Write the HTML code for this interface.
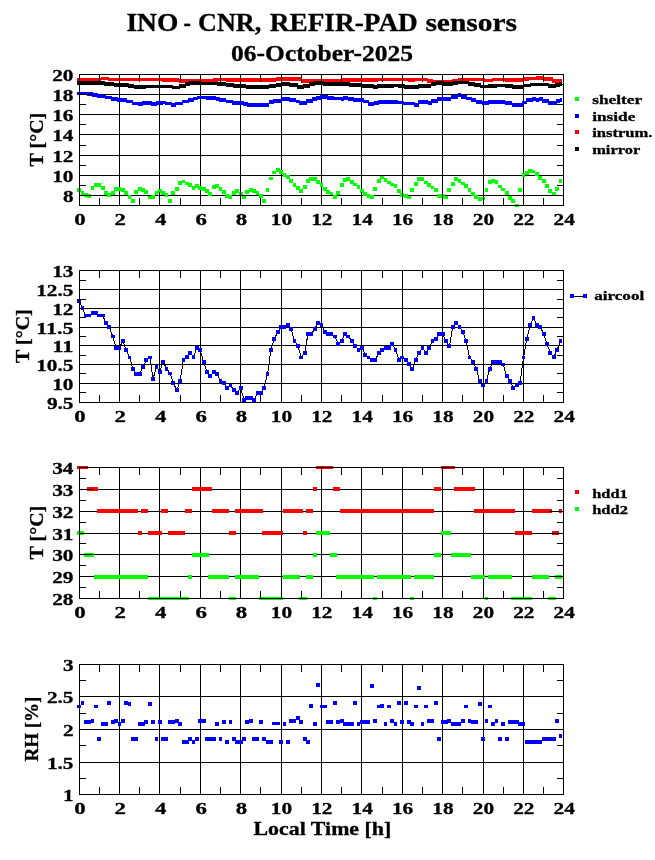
<!DOCTYPE html>
<html><head><meta charset="utf-8"><title>INO - CNR, REFIR-PAD sensors</title>
<style>html,body{margin:0;padding:0;background:#fff;}body{width:655px;height:860px;overflow:hidden;}svg{display:block;font-family:"Liberation Serif",serif;font-weight:bold;fill:#000;}text{stroke:#000;stroke-width:0.3px;stroke-linejoin:round;}.g line,.ax line,.ax rect{stroke:#000;stroke-width:1;fill:none;}.ce{shape-rendering:crispEdges;}svg{will-change:transform;}</style></head><body>
<svg width="655" height="860" viewBox="0 0 655 860">
<rect x="0" y="0" width="655" height="860" fill="#fff"/>
<text x="126.4" y="30.7" font-size="25.5" text-anchor="start" textLength="52" lengthAdjust="spacingAndGlyphs">INO</text>
<text x="183.6" y="30.7" font-size="25.5" text-anchor="start" textLength="7.4" lengthAdjust="spacingAndGlyphs">-</text>
<text x="198.0" y="30.7" font-size="25.5" text-anchor="start" textLength="63.2" lengthAdjust="spacingAndGlyphs">CNR,</text>
<text x="269.8" y="30.7" font-size="25.5" text-anchor="start" textLength="148" lengthAdjust="spacingAndGlyphs">REFIR-PAD</text>
<text x="425.4" y="30.7" font-size="25.5" text-anchor="start" textLength="91.6" lengthAdjust="spacingAndGlyphs">sensors</text>
<text x="322" y="61.1" font-size="23.5" text-anchor="middle" textLength="182" lengthAdjust="spacingAndGlyphs">06-October-2025</text>
<g class="g ce">
<line x1="79.5" y1="195.50" x2="563.5" y2="195.50"/>
<line x1="79.5" y1="175.50" x2="563.5" y2="175.50"/>
<line x1="79.5" y1="155.50" x2="563.5" y2="155.50"/>
<line x1="79.5" y1="134.50" x2="563.5" y2="134.50"/>
<line x1="79.5" y1="114.50" x2="563.5" y2="114.50"/>
<line x1="79.5" y1="94.50" x2="563.5" y2="94.50"/>
<line x1="119.50" y1="74.5" x2="119.50" y2="205.5"/>
<line x1="159.50" y1="74.5" x2="159.50" y2="205.5"/>
<line x1="200.50" y1="74.5" x2="200.50" y2="205.5"/>
<line x1="240.50" y1="74.5" x2="240.50" y2="205.5"/>
<line x1="281.50" y1="74.5" x2="281.50" y2="205.5"/>
<line x1="321.50" y1="74.5" x2="321.50" y2="205.5"/>
<line x1="361.50" y1="74.5" x2="361.50" y2="205.5"/>
<line x1="402.50" y1="74.5" x2="402.50" y2="205.5"/>
<line x1="442.50" y1="74.5" x2="442.50" y2="205.5"/>
<line x1="483.50" y1="74.5" x2="483.50" y2="205.5"/>
<line x1="523.50" y1="74.5" x2="523.50" y2="205.5"/>
</g>
<g class="ce">
<rect x="77.15" y="188.10" width="3.8" height="3.8" fill="#00ff00"/>
<rect x="80.52" y="190.85" width="3.8" height="3.8" fill="#00ff00"/>
<rect x="83.88" y="192.85" width="3.8" height="3.8" fill="#00ff00"/>
<rect x="87.25" y="194.10" width="3.8" height="3.8" fill="#00ff00"/>
<rect x="90.62" y="185.85" width="3.8" height="3.8" fill="#00ff00"/>
<rect x="93.98" y="182.70" width="3.8" height="3.8" fill="#00ff00"/>
<rect x="97.35" y="182.70" width="3.8" height="3.8" fill="#00ff00"/>
<rect x="100.72" y="185.85" width="3.8" height="3.8" fill="#00ff00"/>
<rect x="104.08" y="190.85" width="3.8" height="3.8" fill="#00ff00"/>
<rect x="107.45" y="193.10" width="3.8" height="3.8" fill="#00ff00"/>
<rect x="110.82" y="190.85" width="3.8" height="3.8" fill="#00ff00"/>
<rect x="114.18" y="187.10" width="3.8" height="3.8" fill="#00ff00"/>
<rect x="117.55" y="187.10" width="3.8" height="3.8" fill="#00ff00"/>
<rect x="120.92" y="187.85" width="3.8" height="3.8" fill="#00ff00"/>
<rect x="124.28" y="190.85" width="3.8" height="3.8" fill="#00ff00"/>
<rect x="127.65" y="195.00" width="3.8" height="3.8" fill="#00ff00"/>
<rect x="131.02" y="198.70" width="3.8" height="3.8" fill="#00ff00"/>
<rect x="134.38" y="190.35" width="3.8" height="3.8" fill="#00ff00"/>
<rect x="137.75" y="186.85" width="3.8" height="3.8" fill="#00ff00"/>
<rect x="141.12" y="187.85" width="3.8" height="3.8" fill="#00ff00"/>
<rect x="144.48" y="190.00" width="3.8" height="3.8" fill="#00ff00"/>
<rect x="147.85" y="195.60" width="3.8" height="3.8" fill="#00ff00"/>
<rect x="151.22" y="195.00" width="3.8" height="3.8" fill="#00ff00"/>
<rect x="154.58" y="190.85" width="3.8" height="3.8" fill="#00ff00"/>
<rect x="157.95" y="189.35" width="3.8" height="3.8" fill="#00ff00"/>
<rect x="161.32" y="190.85" width="3.8" height="3.8" fill="#00ff00"/>
<rect x="164.68" y="193.35" width="3.8" height="3.8" fill="#00ff00"/>
<rect x="168.05" y="198.70" width="3.8" height="3.8" fill="#00ff00"/>
<rect x="171.42" y="190.85" width="3.8" height="3.8" fill="#00ff00"/>
<rect x="174.78" y="186.85" width="3.8" height="3.8" fill="#00ff00"/>
<rect x="178.15" y="181.00" width="3.8" height="3.8" fill="#00ff00"/>
<rect x="181.52" y="179.60" width="3.8" height="3.8" fill="#00ff00"/>
<rect x="184.88" y="181.50" width="3.8" height="3.8" fill="#00ff00"/>
<rect x="188.25" y="182.70" width="3.8" height="3.8" fill="#00ff00"/>
<rect x="191.62" y="186.20" width="3.8" height="3.8" fill="#00ff00"/>
<rect x="194.98" y="184.35" width="3.8" height="3.8" fill="#00ff00"/>
<rect x="198.35" y="185.85" width="3.8" height="3.8" fill="#00ff00"/>
<rect x="201.72" y="187.10" width="3.8" height="3.8" fill="#00ff00"/>
<rect x="205.08" y="189.35" width="3.8" height="3.8" fill="#00ff00"/>
<rect x="208.45" y="191.85" width="3.8" height="3.8" fill="#00ff00"/>
<rect x="211.82" y="185.00" width="3.8" height="3.8" fill="#00ff00"/>
<rect x="215.18" y="183.70" width="3.8" height="3.8" fill="#00ff00"/>
<rect x="218.55" y="187.10" width="3.8" height="3.8" fill="#00ff00"/>
<rect x="221.92" y="190.00" width="3.8" height="3.8" fill="#00ff00"/>
<rect x="225.28" y="193.70" width="3.8" height="3.8" fill="#00ff00"/>
<rect x="228.65" y="195.00" width="3.8" height="3.8" fill="#00ff00"/>
<rect x="232.02" y="191.20" width="3.8" height="3.8" fill="#00ff00"/>
<rect x="235.38" y="189.35" width="3.8" height="3.8" fill="#00ff00"/>
<rect x="238.75" y="191.60" width="3.8" height="3.8" fill="#00ff00"/>
<rect x="242.12" y="195.60" width="3.8" height="3.8" fill="#00ff00"/>
<rect x="245.48" y="190.00" width="3.8" height="3.8" fill="#00ff00"/>
<rect x="248.85" y="187.85" width="3.8" height="3.8" fill="#00ff00"/>
<rect x="252.22" y="188.70" width="3.8" height="3.8" fill="#00ff00"/>
<rect x="255.58" y="190.85" width="3.8" height="3.8" fill="#00ff00"/>
<rect x="258.95" y="194.10" width="3.8" height="3.8" fill="#00ff00"/>
<rect x="262.32" y="198.70" width="3.8" height="3.8" fill="#00ff00"/>
<rect x="265.68" y="187.85" width="3.8" height="3.8" fill="#00ff00"/>
<rect x="269.05" y="176.60" width="3.8" height="3.8" fill="#00ff00"/>
<rect x="272.42" y="170.60" width="3.8" height="3.8" fill="#00ff00"/>
<rect x="275.78" y="167.85" width="3.8" height="3.8" fill="#00ff00"/>
<rect x="279.15" y="170.00" width="3.8" height="3.8" fill="#00ff00"/>
<rect x="282.52" y="172.85" width="3.8" height="3.8" fill="#00ff00"/>
<rect x="285.88" y="175.35" width="3.8" height="3.8" fill="#00ff00"/>
<rect x="289.25" y="178.70" width="3.8" height="3.8" fill="#00ff00"/>
<rect x="292.62" y="183.10" width="3.8" height="3.8" fill="#00ff00"/>
<rect x="295.98" y="185.85" width="3.8" height="3.8" fill="#00ff00"/>
<rect x="299.35" y="188.70" width="3.8" height="3.8" fill="#00ff00"/>
<rect x="302.72" y="185.35" width="3.8" height="3.8" fill="#00ff00"/>
<rect x="306.08" y="178.70" width="3.8" height="3.8" fill="#00ff00"/>
<rect x="309.45" y="177.10" width="3.8" height="3.8" fill="#00ff00"/>
<rect x="312.82" y="177.10" width="3.8" height="3.8" fill="#00ff00"/>
<rect x="316.18" y="180.00" width="3.8" height="3.8" fill="#00ff00"/>
<rect x="319.55" y="182.85" width="3.8" height="3.8" fill="#00ff00"/>
<rect x="322.92" y="187.10" width="3.8" height="3.8" fill="#00ff00"/>
<rect x="326.28" y="190.00" width="3.8" height="3.8" fill="#00ff00"/>
<rect x="329.65" y="191.60" width="3.8" height="3.8" fill="#00ff00"/>
<rect x="333.02" y="195.00" width="3.8" height="3.8" fill="#00ff00"/>
<rect x="336.38" y="190.85" width="3.8" height="3.8" fill="#00ff00"/>
<rect x="339.75" y="182.85" width="3.8" height="3.8" fill="#00ff00"/>
<rect x="343.12" y="177.85" width="3.8" height="3.8" fill="#00ff00"/>
<rect x="346.48" y="176.85" width="3.8" height="3.8" fill="#00ff00"/>
<rect x="349.85" y="180.35" width="3.8" height="3.8" fill="#00ff00"/>
<rect x="353.22" y="182.50" width="3.8" height="3.8" fill="#00ff00"/>
<rect x="356.58" y="185.35" width="3.8" height="3.8" fill="#00ff00"/>
<rect x="359.95" y="189.35" width="3.8" height="3.8" fill="#00ff00"/>
<rect x="363.32" y="191.85" width="3.8" height="3.8" fill="#00ff00"/>
<rect x="366.68" y="194.00" width="3.8" height="3.8" fill="#00ff00"/>
<rect x="370.05" y="195.00" width="3.8" height="3.8" fill="#00ff00"/>
<rect x="373.42" y="187.10" width="3.8" height="3.8" fill="#00ff00"/>
<rect x="376.78" y="178.70" width="3.8" height="3.8" fill="#00ff00"/>
<rect x="380.15" y="175.60" width="3.8" height="3.8" fill="#00ff00"/>
<rect x="383.52" y="177.85" width="3.8" height="3.8" fill="#00ff00"/>
<rect x="386.88" y="180.60" width="3.8" height="3.8" fill="#00ff00"/>
<rect x="390.25" y="182.50" width="3.8" height="3.8" fill="#00ff00"/>
<rect x="393.62" y="184.35" width="3.8" height="3.8" fill="#00ff00"/>
<rect x="396.98" y="189.35" width="3.8" height="3.8" fill="#00ff00"/>
<rect x="400.35" y="192.85" width="3.8" height="3.8" fill="#00ff00"/>
<rect x="403.72" y="194.00" width="3.8" height="3.8" fill="#00ff00"/>
<rect x="407.08" y="195.60" width="3.8" height="3.8" fill="#00ff00"/>
<rect x="410.45" y="187.85" width="3.8" height="3.8" fill="#00ff00"/>
<rect x="413.82" y="181.85" width="3.8" height="3.8" fill="#00ff00"/>
<rect x="417.18" y="177.10" width="3.8" height="3.8" fill="#00ff00"/>
<rect x="420.55" y="177.10" width="3.8" height="3.8" fill="#00ff00"/>
<rect x="423.92" y="180.60" width="3.8" height="3.8" fill="#00ff00"/>
<rect x="427.28" y="182.70" width="3.8" height="3.8" fill="#00ff00"/>
<rect x="430.65" y="185.60" width="3.8" height="3.8" fill="#00ff00"/>
<rect x="434.02" y="188.10" width="3.8" height="3.8" fill="#00ff00"/>
<rect x="437.38" y="194.00" width="3.8" height="3.8" fill="#00ff00"/>
<rect x="440.75" y="194.00" width="3.8" height="3.8" fill="#00ff00"/>
<rect x="444.12" y="195.60" width="3.8" height="3.8" fill="#00ff00"/>
<rect x="447.48" y="187.85" width="3.8" height="3.8" fill="#00ff00"/>
<rect x="450.85" y="181.85" width="3.8" height="3.8" fill="#00ff00"/>
<rect x="454.22" y="176.85" width="3.8" height="3.8" fill="#00ff00"/>
<rect x="457.58" y="178.70" width="3.8" height="3.8" fill="#00ff00"/>
<rect x="460.95" y="181.60" width="3.8" height="3.8" fill="#00ff00"/>
<rect x="464.32" y="184.00" width="3.8" height="3.8" fill="#00ff00"/>
<rect x="467.68" y="187.85" width="3.8" height="3.8" fill="#00ff00"/>
<rect x="471.05" y="191.85" width="3.8" height="3.8" fill="#00ff00"/>
<rect x="474.42" y="195.00" width="3.8" height="3.8" fill="#00ff00"/>
<rect x="477.78" y="196.85" width="3.8" height="3.8" fill="#00ff00"/>
<rect x="481.15" y="196.60" width="3.8" height="3.8" fill="#00ff00"/>
<rect x="484.52" y="187.95" width="3.8" height="3.8" fill="#00ff00"/>
<rect x="487.88" y="180.35" width="3.8" height="3.8" fill="#00ff00"/>
<rect x="491.25" y="178.90" width="3.8" height="3.8" fill="#00ff00"/>
<rect x="494.62" y="179.90" width="3.8" height="3.8" fill="#00ff00"/>
<rect x="497.98" y="184.60" width="3.8" height="3.8" fill="#00ff00"/>
<rect x="501.35" y="187.50" width="3.8" height="3.8" fill="#00ff00"/>
<rect x="504.72" y="191.40" width="3.8" height="3.8" fill="#00ff00"/>
<rect x="508.08" y="196.10" width="3.8" height="3.8" fill="#00ff00"/>
<rect x="511.45" y="199.00" width="3.8" height="3.8" fill="#00ff00"/>
<rect x="514.82" y="204" width="3.8" height="3" fill="#00ff00"/>
<rect x="518.18" y="187.95" width="3.8" height="3.8" fill="#00ff00"/>
<rect x="521.55" y="172.90" width="3.8" height="3.8" fill="#00ff00"/>
<rect x="524.92" y="170.70" width="3.8" height="3.8" fill="#00ff00"/>
<rect x="528.28" y="168.85" width="3.8" height="3.8" fill="#00ff00"/>
<rect x="531.65" y="169.60" width="3.8" height="3.8" fill="#00ff00"/>
<rect x="535.02" y="172.45" width="3.8" height="3.8" fill="#00ff00"/>
<rect x="538.38" y="176.00" width="3.8" height="3.8" fill="#00ff00"/>
<rect x="541.75" y="178.90" width="3.8" height="3.8" fill="#00ff00"/>
<rect x="545.12" y="183.90" width="3.8" height="3.8" fill="#00ff00"/>
<rect x="548.48" y="188.95" width="3.8" height="3.8" fill="#00ff00"/>
<rect x="551.85" y="191.80" width="3.8" height="3.8" fill="#00ff00"/>
<rect x="555.22" y="187.20" width="3.8" height="3.8" fill="#00ff00"/>
<rect x="558.58" y="179.20" width="3.8" height="3.8" fill="#00ff00"/>
<rect x="77" y="91.65" width="10.6" height="3.7" fill="#0000ff"/>
<rect x="87" y="92.35" width="5.6" height="3.7" fill="#0000ff"/>
<rect x="92" y="93.05" width="5.6" height="3.7" fill="#0000ff"/>
<rect x="97" y="93.95" width="5.6" height="3.7" fill="#0000ff"/>
<rect x="102" y="94.75" width="3.6" height="3.7" fill="#0000ff"/>
<rect x="105" y="95.75" width="6.6" height="3.7" fill="#0000ff"/>
<rect x="111" y="97.35" width="6.6" height="3.7" fill="#0000ff"/>
<rect x="117" y="98.25" width="9.6" height="3.7" fill="#0000ff"/>
<rect x="126" y="99.55" width="6.6" height="3.7" fill="#0000ff"/>
<rect x="132" y="101.75" width="6.6" height="3.7" fill="#0000ff"/>
<rect x="138" y="101.90" width="4.6" height="3.7" fill="#0000ff"/>
<rect x="142" y="101.05" width="9.6" height="3.7" fill="#0000ff"/>
<rect x="151" y="102.05" width="5.6" height="3.7" fill="#0000ff"/>
<rect x="156" y="101.35" width="6.6" height="3.7" fill="#0000ff"/>
<rect x="162" y="100.65" width="3.6" height="3.7" fill="#0000ff"/>
<rect x="165" y="101.55" width="6.6" height="3.7" fill="#0000ff"/>
<rect x="171" y="103.05" width="4.6" height="3.7" fill="#0000ff"/>
<rect x="175" y="101.75" width="7.6" height="3.7" fill="#0000ff"/>
<rect x="182" y="99.65" width="6.6" height="3.7" fill="#0000ff"/>
<rect x="188" y="98.05" width="5.6" height="3.7" fill="#0000ff"/>
<rect x="193" y="96.55" width="4.6" height="3.7" fill="#0000ff"/>
<rect x="197" y="95.65" width="9.1" height="3.7" fill="#0000ff"/>
<rect x="205.5" y="96.15" width="10.6" height="3.7" fill="#0000ff"/>
<rect x="215.5" y="96.90" width="4.1" height="3.7" fill="#0000ff"/>
<rect x="219" y="98.05" width="7.1" height="3.7" fill="#0000ff"/>
<rect x="225.5" y="99.65" width="7.1" height="3.7" fill="#0000ff"/>
<rect x="232" y="101.05" width="11.6" height="3.7" fill="#0000ff"/>
<rect x="243" y="102.05" width="4.6" height="3.7" fill="#0000ff"/>
<rect x="247" y="103.25" width="22.1" height="3.7" fill="#0000ff"/>
<rect x="268.5" y="100.15" width="5.1" height="3.7" fill="#0000ff"/>
<rect x="273" y="98.90" width="8.1" height="3.7" fill="#0000ff"/>
<rect x="280.5" y="97.05" width="9.1" height="3.7" fill="#0000ff"/>
<rect x="289" y="98.05" width="7.1" height="3.7" fill="#0000ff"/>
<rect x="295.5" y="99.65" width="4.1" height="3.7" fill="#0000ff"/>
<rect x="299" y="101.40" width="7.6" height="3.7" fill="#0000ff"/>
<rect x="306" y="98.90" width="6.6" height="3.7" fill="#0000ff"/>
<rect x="312" y="97.40" width="4.6" height="3.7" fill="#0000ff"/>
<rect x="316" y="96.05" width="4.6" height="3.7" fill="#0000ff"/>
<rect x="320" y="95.15" width="7.6" height="3.7" fill="#0000ff"/>
<rect x="327" y="96.05" width="6.6" height="3.7" fill="#0000ff"/>
<rect x="333" y="96.65" width="8.1" height="3.7" fill="#0000ff"/>
<rect x="340.5" y="97.40" width="3.1" height="3.7" fill="#0000ff"/>
<rect x="343" y="96.05" width="5.1" height="3.7" fill="#0000ff"/>
<rect x="347.5" y="96.90" width="6.1" height="3.7" fill="#0000ff"/>
<rect x="353" y="98.05" width="10.6" height="3.7" fill="#0000ff"/>
<rect x="363" y="99.65" width="5.6" height="3.7" fill="#0000ff"/>
<rect x="368" y="102.05" width="6.1" height="3.7" fill="#0000ff"/>
<rect x="373.5" y="101.05" width="5.1" height="3.7" fill="#0000ff"/>
<rect x="378" y="99.90" width="19.6" height="3.7" fill="#0000ff"/>
<rect x="397" y="100.55" width="6.6" height="3.7" fill="#0000ff"/>
<rect x="403" y="101.75" width="11.6" height="3.7" fill="#0000ff"/>
<rect x="414" y="103.25" width="4.6" height="3.7" fill="#0000ff"/>
<rect x="418" y="100.15" width="10.1" height="3.7" fill="#0000ff"/>
<rect x="427.5" y="101.15" width="4.1" height="3.7" fill="#0000ff"/>
<rect x="431" y="98.90" width="6.6" height="3.7" fill="#0000ff"/>
<rect x="437" y="97.15" width="14.1" height="3.7" fill="#0000ff"/>
<rect x="450.5" y="95.15" width="7.6" height="3.7" fill="#0000ff"/>
<rect x="457.5" y="93.25" width="3.6" height="3.7" fill="#0000ff"/>
<rect x="460.5" y="95.15" width="6.1" height="3.7" fill="#0000ff"/>
<rect x="466" y="96.75" width="5.6" height="3.7" fill="#0000ff"/>
<rect x="471" y="98.25" width="5.1" height="3.7" fill="#0000ff"/>
<rect x="475.5" y="100.15" width="6.6" height="3.7" fill="#0000ff"/>
<rect x="481.5" y="101.35" width="7.1" height="3.7" fill="#0000ff"/>
<rect x="488" y="99.95" width="17.1" height="3.7" fill="#0000ff"/>
<rect x="504.5" y="101.35" width="7.6" height="3.7" fill="#0000ff"/>
<rect x="511.5" y="102.85" width="11.1" height="3.7" fill="#0000ff"/>
<rect x="522" y="100.75" width="4.6" height="3.7" fill="#0000ff"/>
<rect x="526" y="97.95" width="6.6" height="3.7" fill="#0000ff"/>
<rect x="532" y="97.15" width="4.1" height="3.7" fill="#0000ff"/>
<rect x="535.5" y="97.95" width="3.6" height="3.7" fill="#0000ff"/>
<rect x="538.5" y="97.15" width="4.1" height="3.7" fill="#0000ff"/>
<rect x="542" y="98.80" width="6.6" height="3.7" fill="#0000ff"/>
<rect x="548" y="101.05" width="8.6" height="3.7" fill="#0000ff"/>
<rect x="556" y="99.35" width="4.1" height="3.7" fill="#0000ff"/>
<rect x="559.5" y="97.95" width="2.7" height="3.7" fill="#0000ff"/>
<rect x="77" y="77.75" width="24.1" height="3.7" fill="#ff0000"/>
<rect x="100.5" y="76.75" width="8.1" height="3.7" fill="#ff0000"/>
<rect x="108" y="77.75" width="54.6" height="3.7" fill="#ff0000"/>
<rect x="162" y="78.15" width="17.1" height="3.7" fill="#ff0000"/>
<rect x="178.5" y="79.15" width="35.1" height="3.7" fill="#ff0000"/>
<rect x="213" y="78.25" width="4.6" height="3.7" fill="#ff0000"/>
<rect x="217" y="77.75" width="9.1" height="3.7" fill="#ff0000"/>
<rect x="225.5" y="78.40" width="5.6" height="3.7" fill="#ff0000"/>
<rect x="230.5" y="77.90" width="45.6" height="3.7" fill="#ff0000"/>
<rect x="275.5" y="77.15" width="25.6" height="3.7" fill="#ff0000"/>
<rect x="300.5" y="78.90" width="7.1" height="3.7" fill="#ff0000"/>
<rect x="307" y="79.45" width="15.6" height="3.7" fill="#ff0000"/>
<rect x="322" y="78.90" width="20.6" height="3.7" fill="#ff0000"/>
<rect x="342" y="78.05" width="20.6" height="3.7" fill="#ff0000"/>
<rect x="362" y="78.25" width="15.6" height="3.7" fill="#ff0000"/>
<rect x="377" y="77.75" width="31.6" height="3.7" fill="#ff0000"/>
<rect x="408" y="78.15" width="6.6" height="3.7" fill="#ff0000"/>
<rect x="414" y="77.65" width="13.6" height="3.7" fill="#ff0000"/>
<rect x="427" y="78.90" width="5.6" height="3.7" fill="#ff0000"/>
<rect x="432" y="79.55" width="20.6" height="3.7" fill="#ff0000"/>
<rect x="452" y="78.65" width="6.6" height="3.7" fill="#ff0000"/>
<rect x="458" y="77.75" width="26.6" height="3.7" fill="#ff0000"/>
<rect x="484" y="78.55" width="8.6" height="3.7" fill="#ff0000"/>
<rect x="492" y="77.75" width="13.6" height="3.7" fill="#ff0000"/>
<rect x="505" y="78.15" width="18.6" height="3.7" fill="#ff0000"/>
<rect x="523" y="77.45" width="6.1" height="3.7" fill="#ff0000"/>
<rect x="528.5" y="76.75" width="7.6" height="3.7" fill="#ff0000"/>
<rect x="535.5" y="76.15" width="7.6" height="3.7" fill="#ff0000"/>
<rect x="542.5" y="77.15" width="10.1" height="3.7" fill="#ff0000"/>
<rect x="552" y="79.15" width="10.2" height="3.7" fill="#ff0000"/>
<rect x="77" y="81.15" width="27.6" height="3.7" fill="#000000"/>
<rect x="104" y="82.15" width="10.1" height="3.7" fill="#000000"/>
<rect x="113.5" y="83.15" width="15.1" height="3.7" fill="#000000"/>
<rect x="128" y="84.15" width="6.1" height="3.7" fill="#000000"/>
<rect x="133.5" y="85.15" width="12.1" height="3.7" fill="#000000"/>
<rect x="145" y="84.55" width="27.6" height="3.7" fill="#000000"/>
<rect x="172" y="85.65" width="7.6" height="3.7" fill="#000000"/>
<rect x="179" y="84.05" width="6.6" height="3.7" fill="#000000"/>
<rect x="185" y="81.90" width="4.6" height="3.7" fill="#000000"/>
<rect x="189" y="80.90" width="12.1" height="3.7" fill="#000000"/>
<rect x="200.5" y="81.75" width="17.1" height="3.7" fill="#000000"/>
<rect x="217" y="82.25" width="9.1" height="3.7" fill="#000000"/>
<rect x="225.5" y="83.15" width="8.1" height="3.7" fill="#000000"/>
<rect x="233" y="83.90" width="13.1" height="3.7" fill="#000000"/>
<rect x="245.5" y="85.15" width="23.6" height="3.7" fill="#000000"/>
<rect x="268.5" y="83.90" width="7.6" height="3.7" fill="#000000"/>
<rect x="275.5" y="83.05" width="6.1" height="3.7" fill="#000000"/>
<rect x="281" y="82.40" width="8.6" height="3.7" fill="#000000"/>
<rect x="289" y="83.15" width="8.6" height="3.7" fill="#000000"/>
<rect x="297" y="85.15" width="6.6" height="3.7" fill="#000000"/>
<rect x="303" y="83.90" width="6.6" height="3.7" fill="#000000"/>
<rect x="309" y="82.15" width="5.6" height="3.7" fill="#000000"/>
<rect x="314" y="81.05" width="9.6" height="3.7" fill="#000000"/>
<rect x="323" y="81.90" width="4.6" height="3.7" fill="#000000"/>
<rect x="327" y="82.40" width="14.1" height="3.7" fill="#000000"/>
<rect x="340.5" y="82.15" width="9.1" height="3.7" fill="#000000"/>
<rect x="349" y="83.40" width="12.1" height="3.7" fill="#000000"/>
<rect x="360.5" y="84.15" width="13.1" height="3.7" fill="#000000"/>
<rect x="373" y="84.90" width="4.6" height="3.7" fill="#000000"/>
<rect x="377" y="84.15" width="16.6" height="3.7" fill="#000000"/>
<rect x="393" y="83.55" width="5.1" height="3.7" fill="#000000"/>
<rect x="397.5" y="84.15" width="7.1" height="3.7" fill="#000000"/>
<rect x="404" y="85.15" width="14.6" height="3.7" fill="#000000"/>
<rect x="418" y="84.25" width="13.1" height="3.7" fill="#000000"/>
<rect x="430.5" y="82.40" width="5.6" height="3.7" fill="#000000"/>
<rect x="435.5" y="81.40" width="8.1" height="3.7" fill="#000000"/>
<rect x="443" y="82.15" width="9.6" height="3.7" fill="#000000"/>
<rect x="452" y="81.40" width="5.6" height="3.7" fill="#000000"/>
<rect x="457" y="80.75" width="11.6" height="3.7" fill="#000000"/>
<rect x="468" y="81.90" width="6.6" height="3.7" fill="#000000"/>
<rect x="474" y="83.15" width="6.6" height="3.7" fill="#000000"/>
<rect x="480" y="84.75" width="8.6" height="3.7" fill="#000000"/>
<rect x="488" y="84.15" width="8.6" height="3.7" fill="#000000"/>
<rect x="496" y="83.65" width="9.6" height="3.7" fill="#000000"/>
<rect x="505" y="84.15" width="7.6" height="3.7" fill="#000000"/>
<rect x="512" y="85.05" width="11.6" height="3.7" fill="#000000"/>
<rect x="523" y="83.75" width="7.6" height="3.7" fill="#000000"/>
<rect x="530" y="82.65" width="18.6" height="3.7" fill="#000000"/>
<rect x="548" y="84.05" width="7.6" height="3.7" fill="#000000"/>
<rect x="555" y="83.05" width="4.6" height="3.7" fill="#000000"/>
<rect x="559" y="81.95" width="3.2" height="3.7" fill="#000000"/>
</g>
<g class="ax ce">
<rect x="79.5" y="74.5" width="484.0" height="131.0"/>
<line x1="79.5" y1="195.50" x2="93.0" y2="195.50"/><line x1="550.0" y1="195.50" x2="563.5" y2="195.50"/>
<line x1="79.5" y1="175.50" x2="93.0" y2="175.50"/><line x1="550.0" y1="175.50" x2="563.5" y2="175.50"/>
<line x1="79.5" y1="155.50" x2="93.0" y2="155.50"/><line x1="550.0" y1="155.50" x2="563.5" y2="155.50"/>
<line x1="79.5" y1="134.50" x2="93.0" y2="134.50"/><line x1="550.0" y1="134.50" x2="563.5" y2="134.50"/>
<line x1="79.5" y1="114.50" x2="93.0" y2="114.50"/><line x1="550.0" y1="114.50" x2="563.5" y2="114.50"/>
<line x1="79.5" y1="94.50" x2="93.0" y2="94.50"/><line x1="550.0" y1="94.50" x2="563.5" y2="94.50"/>
<line x1="79.5" y1="185.50" x2="86.0" y2="185.50"/><line x1="557.0" y1="185.50" x2="563.5" y2="185.50"/>
<line x1="79.5" y1="165.50" x2="86.0" y2="165.50"/><line x1="557.0" y1="165.50" x2="563.5" y2="165.50"/>
<line x1="79.5" y1="145.50" x2="86.0" y2="145.50"/><line x1="557.0" y1="145.50" x2="563.5" y2="145.50"/>
<line x1="79.5" y1="124.50" x2="86.0" y2="124.50"/><line x1="557.0" y1="124.50" x2="563.5" y2="124.50"/>
<line x1="79.5" y1="104.50" x2="86.0" y2="104.50"/><line x1="557.0" y1="104.50" x2="563.5" y2="104.50"/>
<line x1="79.5" y1="84.50" x2="86.0" y2="84.50"/><line x1="557.0" y1="84.50" x2="563.5" y2="84.50"/>
<line x1="99.50" y1="74.5" x2="99.50" y2="82.0"/><line x1="99.50" y1="198.0" x2="99.50" y2="205.5"/>
<line x1="119.50" y1="74.5" x2="119.50" y2="88.0"/><line x1="119.50" y1="192.0" x2="119.50" y2="205.5"/>
<line x1="139.50" y1="74.5" x2="139.50" y2="82.0"/><line x1="139.50" y1="198.0" x2="139.50" y2="205.5"/>
<line x1="159.50" y1="74.5" x2="159.50" y2="88.0"/><line x1="159.50" y1="192.0" x2="159.50" y2="205.5"/>
<line x1="180.50" y1="74.5" x2="180.50" y2="82.0"/><line x1="180.50" y1="198.0" x2="180.50" y2="205.5"/>
<line x1="200.50" y1="74.5" x2="200.50" y2="88.0"/><line x1="200.50" y1="192.0" x2="200.50" y2="205.5"/>
<line x1="220.50" y1="74.5" x2="220.50" y2="82.0"/><line x1="220.50" y1="198.0" x2="220.50" y2="205.5"/>
<line x1="240.50" y1="74.5" x2="240.50" y2="88.0"/><line x1="240.50" y1="192.0" x2="240.50" y2="205.5"/>
<line x1="260.50" y1="74.5" x2="260.50" y2="82.0"/><line x1="260.50" y1="198.0" x2="260.50" y2="205.5"/>
<line x1="281.50" y1="74.5" x2="281.50" y2="88.0"/><line x1="281.50" y1="192.0" x2="281.50" y2="205.5"/>
<line x1="301.50" y1="74.5" x2="301.50" y2="82.0"/><line x1="301.50" y1="198.0" x2="301.50" y2="205.5"/>
<line x1="321.50" y1="74.5" x2="321.50" y2="88.0"/><line x1="321.50" y1="192.0" x2="321.50" y2="205.5"/>
<line x1="341.50" y1="74.5" x2="341.50" y2="82.0"/><line x1="341.50" y1="198.0" x2="341.50" y2="205.5"/>
<line x1="361.50" y1="74.5" x2="361.50" y2="88.0"/><line x1="361.50" y1="192.0" x2="361.50" y2="205.5"/>
<line x1="382.50" y1="74.5" x2="382.50" y2="82.0"/><line x1="382.50" y1="198.0" x2="382.50" y2="205.5"/>
<line x1="402.50" y1="74.5" x2="402.50" y2="88.0"/><line x1="402.50" y1="192.0" x2="402.50" y2="205.5"/>
<line x1="422.50" y1="74.5" x2="422.50" y2="82.0"/><line x1="422.50" y1="198.0" x2="422.50" y2="205.5"/>
<line x1="442.50" y1="74.5" x2="442.50" y2="88.0"/><line x1="442.50" y1="192.0" x2="442.50" y2="205.5"/>
<line x1="462.50" y1="74.5" x2="462.50" y2="82.0"/><line x1="462.50" y1="198.0" x2="462.50" y2="205.5"/>
<line x1="483.50" y1="74.5" x2="483.50" y2="88.0"/><line x1="483.50" y1="192.0" x2="483.50" y2="205.5"/>
<line x1="503.50" y1="74.5" x2="503.50" y2="82.0"/><line x1="503.50" y1="198.0" x2="503.50" y2="205.5"/>
<line x1="523.50" y1="74.5" x2="523.50" y2="88.0"/><line x1="523.50" y1="192.0" x2="523.50" y2="205.5"/>
<line x1="543.50" y1="74.5" x2="543.50" y2="82.0"/><line x1="543.50" y1="198.0" x2="543.50" y2="205.5"/>
</g>
<text x="73.5" y="201.5" font-size="17.6" text-anchor="end" textLength="10.6" lengthAdjust="spacingAndGlyphs">8</text>
<text x="73.5" y="181.5" font-size="17.6" text-anchor="end" textLength="21.3" lengthAdjust="spacingAndGlyphs">10</text>
<text x="73.5" y="161.5" font-size="17.6" text-anchor="end" textLength="21.3" lengthAdjust="spacingAndGlyphs">12</text>
<text x="73.5" y="140.5" font-size="17.6" text-anchor="end" textLength="21.3" lengthAdjust="spacingAndGlyphs">14</text>
<text x="73.5" y="120.5" font-size="17.6" text-anchor="end" textLength="21.3" lengthAdjust="spacingAndGlyphs">16</text>
<text x="73.5" y="100.5" font-size="17.6" text-anchor="end" textLength="21.3" lengthAdjust="spacingAndGlyphs">18</text>
<text x="73.5" y="80.5" font-size="17.6" text-anchor="end" textLength="21.3" lengthAdjust="spacingAndGlyphs">20</text>
<text x="80.0" y="225.2" font-size="17.6" text-anchor="middle" textLength="11.4" lengthAdjust="spacingAndGlyphs">0</text>
<text x="120.3" y="225.2" font-size="17.6" text-anchor="middle" textLength="11.4" lengthAdjust="spacingAndGlyphs">2</text>
<text x="160.8" y="225.2" font-size="17.6" text-anchor="middle" textLength="11.4" lengthAdjust="spacingAndGlyphs">4</text>
<text x="201.2" y="225.2" font-size="17.6" text-anchor="middle" textLength="11.4" lengthAdjust="spacingAndGlyphs">6</text>
<text x="241.5" y="225.2" font-size="17.6" text-anchor="middle" textLength="11.4" lengthAdjust="spacingAndGlyphs">8</text>
<text x="281.4" y="225.2" font-size="17.6" text-anchor="middle" textLength="21.3" lengthAdjust="spacingAndGlyphs">10</text>
<text x="321.8" y="225.2" font-size="17.6" text-anchor="middle" textLength="21.3" lengthAdjust="spacingAndGlyphs">12</text>
<text x="362.2" y="225.2" font-size="17.6" text-anchor="middle" textLength="21.3" lengthAdjust="spacingAndGlyphs">14</text>
<text x="402.6" y="225.2" font-size="17.6" text-anchor="middle" textLength="21.3" lengthAdjust="spacingAndGlyphs">16</text>
<text x="443.0" y="225.2" font-size="17.6" text-anchor="middle" textLength="21.3" lengthAdjust="spacingAndGlyphs">18</text>
<text x="483.4" y="225.2" font-size="17.6" text-anchor="middle" textLength="21.3" lengthAdjust="spacingAndGlyphs">20</text>
<text x="523.8" y="225.2" font-size="17.6" text-anchor="middle" textLength="21.3" lengthAdjust="spacingAndGlyphs">22</text>
<text x="564.2" y="225.2" font-size="17.6" text-anchor="middle" textLength="21.3" lengthAdjust="spacingAndGlyphs">24</text>
<text font-size="18" text-anchor="middle" textLength="53.6" lengthAdjust="spacingAndGlyphs" transform="translate(42.8,139.6) rotate(-90)">T [°C]</text>
<g class="ce">
<rect x="575" y="97" width="4" height="4" fill="#00ff00"/>
<rect x="575" y="114" width="4" height="4" fill="#0000ff"/>
<rect x="575" y="130" width="4" height="4" fill="#ff0000"/>
<rect x="575" y="147" width="4" height="4" fill="#000000"/>
</g>
<text x="592.2" y="104.2" font-size="13.2" stroke-width="0.2" textLength="50" lengthAdjust="spacingAndGlyphs">shelter</text>
<text x="592.2" y="120.8" font-size="13.2" stroke-width="0.2" textLength="43.2" lengthAdjust="spacingAndGlyphs">inside</text>
<text x="592.2" y="137.3" font-size="13.2" stroke-width="0.2" textLength="60.2" lengthAdjust="spacingAndGlyphs">instrum.</text>
<text x="592.2" y="153.6" font-size="13.2" stroke-width="0.2" textLength="48" lengthAdjust="spacingAndGlyphs">mirror</text>
<g class="g ce">
<line x1="79.5" y1="383.50" x2="563.5" y2="383.50"/>
<line x1="79.5" y1="364.50" x2="563.5" y2="364.50"/>
<line x1="79.5" y1="345.50" x2="563.5" y2="345.50"/>
<line x1="79.5" y1="327.50" x2="563.5" y2="327.50"/>
<line x1="79.5" y1="308.50" x2="563.5" y2="308.50"/>
<line x1="79.5" y1="289.50" x2="563.5" y2="289.50"/>
<line x1="119.50" y1="270.5" x2="119.50" y2="402.5"/>
<line x1="159.50" y1="270.5" x2="159.50" y2="402.5"/>
<line x1="200.50" y1="270.5" x2="200.50" y2="402.5"/>
<line x1="240.50" y1="270.5" x2="240.50" y2="402.5"/>
<line x1="281.50" y1="270.5" x2="281.50" y2="402.5"/>
<line x1="321.50" y1="270.5" x2="321.50" y2="402.5"/>
<line x1="361.50" y1="270.5" x2="361.50" y2="402.5"/>
<line x1="402.50" y1="270.5" x2="402.50" y2="402.5"/>
<line x1="442.50" y1="270.5" x2="442.50" y2="402.5"/>
<line x1="483.50" y1="270.5" x2="483.50" y2="402.5"/>
<line x1="523.50" y1="270.5" x2="523.50" y2="402.5"/>
</g>
<g class="ce">
<polyline points="79.0,301.1 82.4,308.3 85.8,315.5 89.1,315.5 92.5,312.9 95.9,312.9 99.2,315.5 102.6,315.5 106.0,322.9 109.3,326.9 112.7,336.5 116.1,347.6 119.4,347.6 122.8,340.9 126.2,350.0 129.6,357.5 132.9,368.6 136.3,373.9 139.6,373.9 143.0,366.7 146.4,359.9 149.8,357.5 153.1,378.7 156.5,367.0 159.8,371.8 163.2,361.9 166.6,368.6 169.9,373.4 173.3,382.6 176.7,390.3 180.1,381.1 183.4,359.9 186.8,357.2 190.2,352.9 193.5,357.2 196.9,347.6 200.2,350.0 203.6,361.9 207.0,371.8 210.3,375.8 213.7,371.8 217.1,373.9 220.4,381.1 223.8,382.6 227.2,387.7 230.6,385.5 233.9,390.3 237.3,393.0 240.6,387.7 244.0,399.8 247.4,397.8 250.8,397.8 254.1,399.8 257.5,393.0 260.8,393.0 264.2,387.7 267.6,373.9 270.9,350.0 274.3,338.9 277.7,332.0 281.1,327.2 284.4,326.9 287.8,324.8 291.1,328.8 294.5,340.9 297.9,346.0 301.2,357.5 304.6,352.9 308.0,334.1 311.3,334.1 314.7,328.8 318.1,322.9 321.4,324.8 324.8,332.0 328.2,333.6 331.6,333.6 334.9,336.5 338.3,344.1 341.6,340.9 345.0,333.6 348.4,336.5 351.8,340.9 355.1,346.0 358.5,350.0 361.9,347.6 365.2,354.8 368.6,357.5 371.9,359.9 375.3,359.9 378.7,353.2 382.1,350.0 385.4,347.6 388.8,347.6 392.1,343.6 395.5,350.0 398.9,359.9 402.2,357.5 405.6,359.9 409.0,364.3 412.4,368.6 415.7,359.9 419.1,352.9 422.5,347.6 425.8,352.9 429.2,347.6 432.6,340.9 435.9,338.9 439.3,333.8 442.6,333.8 446.0,340.9 449.4,346.0 452.8,326.9 456.1,322.9 459.5,326.9 462.8,332.0 466.2,340.9 469.6,357.5 473.0,361.9 476.3,368.6 479.7,381.1 483.1,385.4 486.4,381.1 489.8,368.7 493.1,362.3 496.5,362.3 499.9,362.3 503.2,364.4 506.6,376.3 510.0,381.1 513.3,387.8 516.7,385.4 520.1,382.7 523.5,357.5 526.8,338.9 530.2,324.9 533.5,318.2 536.9,324.9 540.3,326.9 543.6,333.8 547.0,344.0 550.4,352.9 553.8,357.2 557.1,350.0 560.5,341.0" fill="none" stroke="#000" stroke-width="1"/>
<rect x="77.15" y="299.20" width="3.8" height="3.8" fill="#0000ff"/>
<rect x="80.52" y="306.40" width="3.8" height="3.8" fill="#0000ff"/>
<rect x="83.88" y="313.60" width="3.8" height="3.8" fill="#0000ff"/>
<rect x="87.25" y="313.60" width="3.8" height="3.8" fill="#0000ff"/>
<rect x="90.62" y="311.00" width="3.8" height="3.8" fill="#0000ff"/>
<rect x="93.98" y="311.00" width="3.8" height="3.8" fill="#0000ff"/>
<rect x="97.35" y="313.60" width="3.8" height="3.8" fill="#0000ff"/>
<rect x="100.72" y="313.60" width="3.8" height="3.8" fill="#0000ff"/>
<rect x="104.08" y="321.00" width="3.8" height="3.8" fill="#0000ff"/>
<rect x="107.45" y="325.00" width="3.8" height="3.8" fill="#0000ff"/>
<rect x="110.82" y="334.60" width="3.8" height="3.8" fill="#0000ff"/>
<rect x="114.18" y="345.70" width="3.8" height="3.8" fill="#0000ff"/>
<rect x="117.55" y="345.70" width="3.8" height="3.8" fill="#0000ff"/>
<rect x="120.92" y="339.00" width="3.8" height="3.8" fill="#0000ff"/>
<rect x="124.28" y="348.10" width="3.8" height="3.8" fill="#0000ff"/>
<rect x="127.65" y="355.60" width="3.8" height="3.8" fill="#0000ff"/>
<rect x="131.02" y="366.70" width="3.8" height="3.8" fill="#0000ff"/>
<rect x="134.38" y="372.00" width="3.8" height="3.8" fill="#0000ff"/>
<rect x="137.75" y="372.00" width="3.8" height="3.8" fill="#0000ff"/>
<rect x="141.12" y="364.80" width="3.8" height="3.8" fill="#0000ff"/>
<rect x="144.48" y="358.00" width="3.8" height="3.8" fill="#0000ff"/>
<rect x="147.85" y="355.60" width="3.8" height="3.8" fill="#0000ff"/>
<rect x="151.22" y="376.80" width="3.8" height="3.8" fill="#0000ff"/>
<rect x="154.58" y="365.10" width="3.8" height="3.8" fill="#0000ff"/>
<rect x="157.95" y="369.90" width="3.8" height="3.8" fill="#0000ff"/>
<rect x="161.32" y="360.00" width="3.8" height="3.8" fill="#0000ff"/>
<rect x="164.68" y="366.70" width="3.8" height="3.8" fill="#0000ff"/>
<rect x="168.05" y="371.50" width="3.8" height="3.8" fill="#0000ff"/>
<rect x="171.42" y="380.70" width="3.8" height="3.8" fill="#0000ff"/>
<rect x="174.78" y="388.40" width="3.8" height="3.8" fill="#0000ff"/>
<rect x="178.15" y="379.20" width="3.8" height="3.8" fill="#0000ff"/>
<rect x="181.52" y="358.00" width="3.8" height="3.8" fill="#0000ff"/>
<rect x="184.88" y="355.30" width="3.8" height="3.8" fill="#0000ff"/>
<rect x="188.25" y="351.00" width="3.8" height="3.8" fill="#0000ff"/>
<rect x="191.62" y="355.30" width="3.8" height="3.8" fill="#0000ff"/>
<rect x="194.98" y="345.70" width="3.8" height="3.8" fill="#0000ff"/>
<rect x="198.35" y="348.10" width="3.8" height="3.8" fill="#0000ff"/>
<rect x="201.72" y="360.00" width="3.8" height="3.8" fill="#0000ff"/>
<rect x="205.08" y="369.90" width="3.8" height="3.8" fill="#0000ff"/>
<rect x="208.45" y="373.90" width="3.8" height="3.8" fill="#0000ff"/>
<rect x="211.82" y="369.90" width="3.8" height="3.8" fill="#0000ff"/>
<rect x="215.18" y="372.00" width="3.8" height="3.8" fill="#0000ff"/>
<rect x="218.55" y="379.20" width="3.8" height="3.8" fill="#0000ff"/>
<rect x="221.92" y="380.70" width="3.8" height="3.8" fill="#0000ff"/>
<rect x="225.28" y="385.80" width="3.8" height="3.8" fill="#0000ff"/>
<rect x="228.65" y="383.60" width="3.8" height="3.8" fill="#0000ff"/>
<rect x="232.02" y="388.40" width="3.8" height="3.8" fill="#0000ff"/>
<rect x="235.38" y="391.10" width="3.8" height="3.8" fill="#0000ff"/>
<rect x="238.75" y="385.80" width="3.8" height="3.8" fill="#0000ff"/>
<rect x="242.12" y="397.90" width="3.8" height="3.8" fill="#0000ff"/>
<rect x="245.48" y="395.90" width="3.8" height="3.8" fill="#0000ff"/>
<rect x="248.85" y="395.90" width="3.8" height="3.8" fill="#0000ff"/>
<rect x="252.22" y="397.90" width="3.8" height="3.8" fill="#0000ff"/>
<rect x="255.58" y="391.10" width="3.8" height="3.8" fill="#0000ff"/>
<rect x="258.95" y="391.10" width="3.8" height="3.8" fill="#0000ff"/>
<rect x="262.32" y="385.80" width="3.8" height="3.8" fill="#0000ff"/>
<rect x="265.68" y="372.00" width="3.8" height="3.8" fill="#0000ff"/>
<rect x="269.05" y="348.10" width="3.8" height="3.8" fill="#0000ff"/>
<rect x="272.42" y="337.00" width="3.8" height="3.8" fill="#0000ff"/>
<rect x="275.78" y="330.10" width="3.8" height="3.8" fill="#0000ff"/>
<rect x="279.15" y="325.30" width="3.8" height="3.8" fill="#0000ff"/>
<rect x="282.52" y="325.00" width="3.8" height="3.8" fill="#0000ff"/>
<rect x="285.88" y="322.90" width="3.8" height="3.8" fill="#0000ff"/>
<rect x="289.25" y="326.90" width="3.8" height="3.8" fill="#0000ff"/>
<rect x="292.62" y="339.00" width="3.8" height="3.8" fill="#0000ff"/>
<rect x="295.98" y="344.10" width="3.8" height="3.8" fill="#0000ff"/>
<rect x="299.35" y="355.60" width="3.8" height="3.8" fill="#0000ff"/>
<rect x="302.72" y="351.00" width="3.8" height="3.8" fill="#0000ff"/>
<rect x="306.08" y="332.20" width="3.8" height="3.8" fill="#0000ff"/>
<rect x="309.45" y="332.20" width="3.8" height="3.8" fill="#0000ff"/>
<rect x="312.82" y="326.90" width="3.8" height="3.8" fill="#0000ff"/>
<rect x="316.18" y="321.00" width="3.8" height="3.8" fill="#0000ff"/>
<rect x="319.55" y="322.90" width="3.8" height="3.8" fill="#0000ff"/>
<rect x="322.92" y="330.10" width="3.8" height="3.8" fill="#0000ff"/>
<rect x="326.28" y="331.70" width="3.8" height="3.8" fill="#0000ff"/>
<rect x="329.65" y="331.70" width="3.8" height="3.8" fill="#0000ff"/>
<rect x="333.02" y="334.60" width="3.8" height="3.8" fill="#0000ff"/>
<rect x="336.38" y="342.20" width="3.8" height="3.8" fill="#0000ff"/>
<rect x="339.75" y="339.00" width="3.8" height="3.8" fill="#0000ff"/>
<rect x="343.12" y="331.70" width="3.8" height="3.8" fill="#0000ff"/>
<rect x="346.48" y="334.60" width="3.8" height="3.8" fill="#0000ff"/>
<rect x="349.85" y="339.00" width="3.8" height="3.8" fill="#0000ff"/>
<rect x="353.22" y="344.10" width="3.8" height="3.8" fill="#0000ff"/>
<rect x="356.58" y="348.10" width="3.8" height="3.8" fill="#0000ff"/>
<rect x="359.95" y="345.70" width="3.8" height="3.8" fill="#0000ff"/>
<rect x="363.32" y="352.90" width="3.8" height="3.8" fill="#0000ff"/>
<rect x="366.68" y="355.60" width="3.8" height="3.8" fill="#0000ff"/>
<rect x="370.05" y="358.00" width="3.8" height="3.8" fill="#0000ff"/>
<rect x="373.42" y="358.00" width="3.8" height="3.8" fill="#0000ff"/>
<rect x="376.78" y="351.30" width="3.8" height="3.8" fill="#0000ff"/>
<rect x="380.15" y="348.10" width="3.8" height="3.8" fill="#0000ff"/>
<rect x="383.52" y="345.70" width="3.8" height="3.8" fill="#0000ff"/>
<rect x="386.88" y="345.70" width="3.8" height="3.8" fill="#0000ff"/>
<rect x="390.25" y="341.70" width="3.8" height="3.8" fill="#0000ff"/>
<rect x="393.62" y="348.10" width="3.8" height="3.8" fill="#0000ff"/>
<rect x="396.98" y="358.00" width="3.8" height="3.8" fill="#0000ff"/>
<rect x="400.35" y="355.60" width="3.8" height="3.8" fill="#0000ff"/>
<rect x="403.72" y="358.00" width="3.8" height="3.8" fill="#0000ff"/>
<rect x="407.08" y="362.40" width="3.8" height="3.8" fill="#0000ff"/>
<rect x="410.45" y="366.70" width="3.8" height="3.8" fill="#0000ff"/>
<rect x="413.82" y="358.00" width="3.8" height="3.8" fill="#0000ff"/>
<rect x="417.18" y="351.00" width="3.8" height="3.8" fill="#0000ff"/>
<rect x="420.55" y="345.70" width="3.8" height="3.8" fill="#0000ff"/>
<rect x="423.92" y="351.00" width="3.8" height="3.8" fill="#0000ff"/>
<rect x="427.28" y="345.70" width="3.8" height="3.8" fill="#0000ff"/>
<rect x="430.65" y="339.00" width="3.8" height="3.8" fill="#0000ff"/>
<rect x="434.02" y="337.00" width="3.8" height="3.8" fill="#0000ff"/>
<rect x="437.38" y="331.90" width="3.8" height="3.8" fill="#0000ff"/>
<rect x="440.75" y="331.90" width="3.8" height="3.8" fill="#0000ff"/>
<rect x="444.12" y="339.00" width="3.8" height="3.8" fill="#0000ff"/>
<rect x="447.48" y="344.10" width="3.8" height="3.8" fill="#0000ff"/>
<rect x="450.85" y="325.00" width="3.8" height="3.8" fill="#0000ff"/>
<rect x="454.22" y="321.00" width="3.8" height="3.8" fill="#0000ff"/>
<rect x="457.58" y="325.00" width="3.8" height="3.8" fill="#0000ff"/>
<rect x="460.95" y="330.10" width="3.8" height="3.8" fill="#0000ff"/>
<rect x="464.32" y="339.00" width="3.8" height="3.8" fill="#0000ff"/>
<rect x="467.68" y="355.60" width="3.8" height="3.8" fill="#0000ff"/>
<rect x="471.05" y="360.00" width="3.8" height="3.8" fill="#0000ff"/>
<rect x="474.42" y="366.70" width="3.8" height="3.8" fill="#0000ff"/>
<rect x="477.78" y="379.20" width="3.8" height="3.8" fill="#0000ff"/>
<rect x="481.15" y="383.50" width="3.8" height="3.8" fill="#0000ff"/>
<rect x="484.52" y="379.20" width="3.8" height="3.8" fill="#0000ff"/>
<rect x="487.88" y="366.80" width="3.8" height="3.8" fill="#0000ff"/>
<rect x="491.25" y="360.40" width="3.8" height="3.8" fill="#0000ff"/>
<rect x="494.62" y="360.40" width="3.8" height="3.8" fill="#0000ff"/>
<rect x="497.98" y="360.40" width="3.8" height="3.8" fill="#0000ff"/>
<rect x="501.35" y="362.50" width="3.8" height="3.8" fill="#0000ff"/>
<rect x="504.72" y="374.40" width="3.8" height="3.8" fill="#0000ff"/>
<rect x="508.08" y="379.20" width="3.8" height="3.8" fill="#0000ff"/>
<rect x="511.45" y="385.90" width="3.8" height="3.8" fill="#0000ff"/>
<rect x="514.82" y="383.50" width="3.8" height="3.8" fill="#0000ff"/>
<rect x="518.18" y="380.80" width="3.8" height="3.8" fill="#0000ff"/>
<rect x="521.55" y="355.60" width="3.8" height="3.8" fill="#0000ff"/>
<rect x="524.92" y="337.00" width="3.8" height="3.8" fill="#0000ff"/>
<rect x="528.28" y="323.00" width="3.8" height="3.8" fill="#0000ff"/>
<rect x="531.65" y="316.30" width="3.8" height="3.8" fill="#0000ff"/>
<rect x="535.02" y="323.00" width="3.8" height="3.8" fill="#0000ff"/>
<rect x="538.38" y="325.00" width="3.8" height="3.8" fill="#0000ff"/>
<rect x="541.75" y="331.90" width="3.8" height="3.8" fill="#0000ff"/>
<rect x="545.12" y="342.10" width="3.8" height="3.8" fill="#0000ff"/>
<rect x="548.48" y="351.00" width="3.8" height="3.8" fill="#0000ff"/>
<rect x="551.85" y="355.30" width="3.8" height="3.8" fill="#0000ff"/>
<rect x="555.22" y="348.10" width="3.8" height="3.8" fill="#0000ff"/>
<rect x="558.58" y="339.10" width="3.8" height="3.8" fill="#0000ff"/>
</g>
<g class="ax ce">
<rect x="79.5" y="270.5" width="484.0" height="132.0"/>
<line x1="79.5" y1="383.50" x2="93.0" y2="383.50"/><line x1="550.0" y1="383.50" x2="563.5" y2="383.50"/>
<line x1="79.5" y1="364.50" x2="93.0" y2="364.50"/><line x1="550.0" y1="364.50" x2="563.5" y2="364.50"/>
<line x1="79.5" y1="345.50" x2="93.0" y2="345.50"/><line x1="550.0" y1="345.50" x2="563.5" y2="345.50"/>
<line x1="79.5" y1="327.50" x2="93.0" y2="327.50"/><line x1="550.0" y1="327.50" x2="563.5" y2="327.50"/>
<line x1="79.5" y1="308.50" x2="93.0" y2="308.50"/><line x1="550.0" y1="308.50" x2="563.5" y2="308.50"/>
<line x1="79.5" y1="289.50" x2="93.0" y2="289.50"/><line x1="550.0" y1="289.50" x2="563.5" y2="289.50"/>
<line x1="79.5" y1="392.50" x2="86.0" y2="392.50"/><line x1="557.0" y1="392.50" x2="563.5" y2="392.50"/>
<line x1="79.5" y1="373.50" x2="86.0" y2="373.50"/><line x1="557.0" y1="373.50" x2="563.5" y2="373.50"/>
<line x1="79.5" y1="355.50" x2="86.0" y2="355.50"/><line x1="557.0" y1="355.50" x2="563.5" y2="355.50"/>
<line x1="79.5" y1="336.50" x2="86.0" y2="336.50"/><line x1="557.0" y1="336.50" x2="563.5" y2="336.50"/>
<line x1="79.5" y1="317.50" x2="86.0" y2="317.50"/><line x1="557.0" y1="317.50" x2="563.5" y2="317.50"/>
<line x1="79.5" y1="299.50" x2="86.0" y2="299.50"/><line x1="557.0" y1="299.50" x2="563.5" y2="299.50"/>
<line x1="79.5" y1="280.50" x2="86.0" y2="280.50"/><line x1="557.0" y1="280.50" x2="563.5" y2="280.50"/>
<line x1="99.50" y1="270.5" x2="99.50" y2="278.0"/><line x1="99.50" y1="395.0" x2="99.50" y2="402.5"/>
<line x1="119.50" y1="270.5" x2="119.50" y2="284.0"/><line x1="119.50" y1="389.0" x2="119.50" y2="402.5"/>
<line x1="139.50" y1="270.5" x2="139.50" y2="278.0"/><line x1="139.50" y1="395.0" x2="139.50" y2="402.5"/>
<line x1="159.50" y1="270.5" x2="159.50" y2="284.0"/><line x1="159.50" y1="389.0" x2="159.50" y2="402.5"/>
<line x1="180.50" y1="270.5" x2="180.50" y2="278.0"/><line x1="180.50" y1="395.0" x2="180.50" y2="402.5"/>
<line x1="200.50" y1="270.5" x2="200.50" y2="284.0"/><line x1="200.50" y1="389.0" x2="200.50" y2="402.5"/>
<line x1="220.50" y1="270.5" x2="220.50" y2="278.0"/><line x1="220.50" y1="395.0" x2="220.50" y2="402.5"/>
<line x1="240.50" y1="270.5" x2="240.50" y2="284.0"/><line x1="240.50" y1="389.0" x2="240.50" y2="402.5"/>
<line x1="260.50" y1="270.5" x2="260.50" y2="278.0"/><line x1="260.50" y1="395.0" x2="260.50" y2="402.5"/>
<line x1="281.50" y1="270.5" x2="281.50" y2="284.0"/><line x1="281.50" y1="389.0" x2="281.50" y2="402.5"/>
<line x1="301.50" y1="270.5" x2="301.50" y2="278.0"/><line x1="301.50" y1="395.0" x2="301.50" y2="402.5"/>
<line x1="321.50" y1="270.5" x2="321.50" y2="284.0"/><line x1="321.50" y1="389.0" x2="321.50" y2="402.5"/>
<line x1="341.50" y1="270.5" x2="341.50" y2="278.0"/><line x1="341.50" y1="395.0" x2="341.50" y2="402.5"/>
<line x1="361.50" y1="270.5" x2="361.50" y2="284.0"/><line x1="361.50" y1="389.0" x2="361.50" y2="402.5"/>
<line x1="382.50" y1="270.5" x2="382.50" y2="278.0"/><line x1="382.50" y1="395.0" x2="382.50" y2="402.5"/>
<line x1="402.50" y1="270.5" x2="402.50" y2="284.0"/><line x1="402.50" y1="389.0" x2="402.50" y2="402.5"/>
<line x1="422.50" y1="270.5" x2="422.50" y2="278.0"/><line x1="422.50" y1="395.0" x2="422.50" y2="402.5"/>
<line x1="442.50" y1="270.5" x2="442.50" y2="284.0"/><line x1="442.50" y1="389.0" x2="442.50" y2="402.5"/>
<line x1="462.50" y1="270.5" x2="462.50" y2="278.0"/><line x1="462.50" y1="395.0" x2="462.50" y2="402.5"/>
<line x1="483.50" y1="270.5" x2="483.50" y2="284.0"/><line x1="483.50" y1="389.0" x2="483.50" y2="402.5"/>
<line x1="503.50" y1="270.5" x2="503.50" y2="278.0"/><line x1="503.50" y1="395.0" x2="503.50" y2="402.5"/>
<line x1="523.50" y1="270.5" x2="523.50" y2="284.0"/><line x1="523.50" y1="389.0" x2="523.50" y2="402.5"/>
<line x1="543.50" y1="270.5" x2="543.50" y2="278.0"/><line x1="543.50" y1="395.0" x2="543.50" y2="402.5"/>
</g>
<text x="73.5" y="409.0" font-size="17.6" text-anchor="end" textLength="26.6" lengthAdjust="spacingAndGlyphs">9.5</text>
<text x="73.5" y="390.0" font-size="17.6" text-anchor="end" textLength="21.3" lengthAdjust="spacingAndGlyphs">10</text>
<text x="73.5" y="371.0" font-size="17.6" text-anchor="end" textLength="37.3" lengthAdjust="spacingAndGlyphs">10.5</text>
<text x="73.5" y="352.0" font-size="17.6" text-anchor="end" textLength="21.3" lengthAdjust="spacingAndGlyphs">11</text>
<text x="73.5" y="334.0" font-size="17.6" text-anchor="end" textLength="37.3" lengthAdjust="spacingAndGlyphs">11.5</text>
<text x="73.5" y="315.0" font-size="17.6" text-anchor="end" textLength="21.3" lengthAdjust="spacingAndGlyphs">12</text>
<text x="73.5" y="296.0" font-size="17.6" text-anchor="end" textLength="37.3" lengthAdjust="spacingAndGlyphs">12.5</text>
<text x="73.5" y="277.0" font-size="17.6" text-anchor="end" textLength="21.3" lengthAdjust="spacingAndGlyphs">13</text>
<text x="80.0" y="422.2" font-size="17.6" text-anchor="middle" textLength="11.4" lengthAdjust="spacingAndGlyphs">0</text>
<text x="120.3" y="422.2" font-size="17.6" text-anchor="middle" textLength="11.4" lengthAdjust="spacingAndGlyphs">2</text>
<text x="160.8" y="422.2" font-size="17.6" text-anchor="middle" textLength="11.4" lengthAdjust="spacingAndGlyphs">4</text>
<text x="201.2" y="422.2" font-size="17.6" text-anchor="middle" textLength="11.4" lengthAdjust="spacingAndGlyphs">6</text>
<text x="241.5" y="422.2" font-size="17.6" text-anchor="middle" textLength="11.4" lengthAdjust="spacingAndGlyphs">8</text>
<text x="281.4" y="422.2" font-size="17.6" text-anchor="middle" textLength="21.3" lengthAdjust="spacingAndGlyphs">10</text>
<text x="321.8" y="422.2" font-size="17.6" text-anchor="middle" textLength="21.3" lengthAdjust="spacingAndGlyphs">12</text>
<text x="362.2" y="422.2" font-size="17.6" text-anchor="middle" textLength="21.3" lengthAdjust="spacingAndGlyphs">14</text>
<text x="402.6" y="422.2" font-size="17.6" text-anchor="middle" textLength="21.3" lengthAdjust="spacingAndGlyphs">16</text>
<text x="443.0" y="422.2" font-size="17.6" text-anchor="middle" textLength="21.3" lengthAdjust="spacingAndGlyphs">18</text>
<text x="483.4" y="422.2" font-size="17.6" text-anchor="middle" textLength="21.3" lengthAdjust="spacingAndGlyphs">20</text>
<text x="523.8" y="422.2" font-size="17.6" text-anchor="middle" textLength="21.3" lengthAdjust="spacingAndGlyphs">22</text>
<text x="564.2" y="422.2" font-size="17.6" text-anchor="middle" textLength="21.3" lengthAdjust="spacingAndGlyphs">24</text>
<text font-size="18" text-anchor="middle" textLength="53.6" lengthAdjust="spacingAndGlyphs" transform="translate(28.9,336.1) rotate(-90)">T [°C]</text>
<g class="ce"><line x1="572" y1="296.5" x2="585" y2="296.5" stroke="#000" stroke-width="1"/><rect x="570" y="294" width="4" height="4" fill="#0000ff"/><rect x="583" y="294" width="4" height="4" fill="#0000ff"/></g>
<text x="594.2" y="300.3" font-size="13.2" stroke-width="0.2" textLength="50" lengthAdjust="spacingAndGlyphs">aircool</text>
<g class="g ce">
<line x1="79.5" y1="576.50" x2="563.5" y2="576.50"/>
<line x1="79.5" y1="554.50" x2="563.5" y2="554.50"/>
<line x1="79.5" y1="533.50" x2="563.5" y2="533.50"/>
<line x1="79.5" y1="511.50" x2="563.5" y2="511.50"/>
<line x1="79.5" y1="489.50" x2="563.5" y2="489.50"/>
<line x1="119.50" y1="467.5" x2="119.50" y2="598.5"/>
<line x1="159.50" y1="467.5" x2="159.50" y2="598.5"/>
<line x1="200.50" y1="467.5" x2="200.50" y2="598.5"/>
<line x1="240.50" y1="467.5" x2="240.50" y2="598.5"/>
<line x1="281.50" y1="467.5" x2="281.50" y2="598.5"/>
<line x1="321.50" y1="467.5" x2="321.50" y2="598.5"/>
<line x1="361.50" y1="467.5" x2="361.50" y2="598.5"/>
<line x1="402.50" y1="467.5" x2="402.50" y2="598.5"/>
<line x1="442.50" y1="467.5" x2="442.50" y2="598.5"/>
<line x1="483.50" y1="467.5" x2="483.50" y2="598.5"/>
<line x1="523.50" y1="467.5" x2="523.50" y2="598.5"/>
</g>
<g class="ce">
<rect x="77.15" y="531.10" width="3.8" height="3.8" fill="#00ff00"/>
<rect x="80.52" y="531.10" width="3.8" height="3.8" fill="#00ff00"/>
<rect x="83.88" y="552.93" width="3.8" height="3.8" fill="#00ff00"/>
<rect x="87.25" y="552.93" width="3.8" height="3.8" fill="#00ff00"/>
<rect x="90.62" y="552.93" width="3.8" height="3.8" fill="#00ff00"/>
<rect x="93.98" y="574.77" width="3.8" height="3.8" fill="#00ff00"/>
<rect x="97.35" y="574.77" width="3.8" height="3.8" fill="#00ff00"/>
<rect x="100.72" y="574.77" width="3.8" height="3.8" fill="#00ff00"/>
<rect x="104.08" y="574.77" width="3.8" height="3.8" fill="#00ff00"/>
<rect x="107.45" y="574.77" width="3.8" height="3.8" fill="#00ff00"/>
<rect x="110.82" y="574.77" width="3.8" height="3.8" fill="#00ff00"/>
<rect x="114.18" y="574.77" width="3.8" height="3.8" fill="#00ff00"/>
<rect x="117.55" y="574.77" width="3.8" height="3.8" fill="#00ff00"/>
<rect x="120.92" y="574.77" width="3.8" height="3.8" fill="#00ff00"/>
<rect x="124.28" y="574.77" width="3.8" height="3.8" fill="#00ff00"/>
<rect x="127.65" y="574.77" width="3.8" height="3.8" fill="#00ff00"/>
<rect x="131.02" y="574.77" width="3.8" height="3.8" fill="#00ff00"/>
<rect x="134.38" y="574.77" width="3.8" height="3.8" fill="#00ff00"/>
<rect x="137.75" y="574.77" width="3.8" height="3.8" fill="#00ff00"/>
<rect x="141.12" y="574.77" width="3.8" height="3.8" fill="#00ff00"/>
<rect x="144.48" y="574.77" width="3.8" height="3.8" fill="#00ff00"/>
<rect x="147.85" y="596.60" width="3.8" height="3.8" fill="#00ff00"/>
<rect x="151.22" y="596.60" width="3.8" height="3.8" fill="#00ff00"/>
<rect x="154.58" y="596.60" width="3.8" height="3.8" fill="#00ff00"/>
<rect x="157.95" y="596.60" width="3.8" height="3.8" fill="#00ff00"/>
<rect x="161.32" y="596.60" width="3.8" height="3.8" fill="#00ff00"/>
<rect x="164.68" y="596.60" width="3.8" height="3.8" fill="#00ff00"/>
<rect x="168.05" y="596.60" width="3.8" height="3.8" fill="#00ff00"/>
<rect x="171.42" y="596.60" width="3.8" height="3.8" fill="#00ff00"/>
<rect x="174.78" y="596.60" width="3.8" height="3.8" fill="#00ff00"/>
<rect x="178.15" y="596.60" width="3.8" height="3.8" fill="#00ff00"/>
<rect x="181.52" y="596.60" width="3.8" height="3.8" fill="#00ff00"/>
<rect x="184.88" y="596.60" width="3.8" height="3.8" fill="#00ff00"/>
<rect x="188.25" y="574.77" width="3.8" height="3.8" fill="#00ff00"/>
<rect x="191.62" y="552.93" width="3.8" height="3.8" fill="#00ff00"/>
<rect x="194.98" y="552.93" width="3.8" height="3.8" fill="#00ff00"/>
<rect x="198.35" y="552.93" width="3.8" height="3.8" fill="#00ff00"/>
<rect x="201.72" y="552.93" width="3.8" height="3.8" fill="#00ff00"/>
<rect x="205.08" y="552.93" width="3.8" height="3.8" fill="#00ff00"/>
<rect x="208.45" y="574.77" width="3.8" height="3.8" fill="#00ff00"/>
<rect x="211.82" y="574.77" width="3.8" height="3.8" fill="#00ff00"/>
<rect x="215.18" y="574.77" width="3.8" height="3.8" fill="#00ff00"/>
<rect x="218.55" y="574.77" width="3.8" height="3.8" fill="#00ff00"/>
<rect x="221.92" y="574.77" width="3.8" height="3.8" fill="#00ff00"/>
<rect x="225.28" y="574.77" width="3.8" height="3.8" fill="#00ff00"/>
<rect x="228.65" y="596.60" width="3.8" height="3.8" fill="#00ff00"/>
<rect x="232.02" y="596.60" width="3.8" height="3.8" fill="#00ff00"/>
<rect x="235.38" y="574.77" width="3.8" height="3.8" fill="#00ff00"/>
<rect x="238.75" y="574.77" width="3.8" height="3.8" fill="#00ff00"/>
<rect x="242.12" y="574.77" width="3.8" height="3.8" fill="#00ff00"/>
<rect x="245.48" y="574.77" width="3.8" height="3.8" fill="#00ff00"/>
<rect x="248.85" y="574.77" width="3.8" height="3.8" fill="#00ff00"/>
<rect x="252.22" y="574.77" width="3.8" height="3.8" fill="#00ff00"/>
<rect x="255.58" y="574.77" width="3.8" height="3.8" fill="#00ff00"/>
<rect x="258.95" y="596.60" width="3.8" height="3.8" fill="#00ff00"/>
<rect x="262.32" y="596.60" width="3.8" height="3.8" fill="#00ff00"/>
<rect x="265.68" y="596.60" width="3.8" height="3.8" fill="#00ff00"/>
<rect x="269.05" y="596.60" width="3.8" height="3.8" fill="#00ff00"/>
<rect x="272.42" y="596.60" width="3.8" height="3.8" fill="#00ff00"/>
<rect x="275.78" y="596.60" width="3.8" height="3.8" fill="#00ff00"/>
<rect x="279.15" y="596.60" width="3.8" height="3.8" fill="#00ff00"/>
<rect x="282.52" y="574.77" width="3.8" height="3.8" fill="#00ff00"/>
<rect x="285.88" y="574.77" width="3.8" height="3.8" fill="#00ff00"/>
<rect x="289.25" y="574.77" width="3.8" height="3.8" fill="#00ff00"/>
<rect x="292.62" y="574.77" width="3.8" height="3.8" fill="#00ff00"/>
<rect x="295.98" y="574.77" width="3.8" height="3.8" fill="#00ff00"/>
<rect x="299.35" y="596.60" width="3.8" height="3.8" fill="#00ff00"/>
<rect x="302.72" y="596.60" width="3.8" height="3.8" fill="#00ff00"/>
<rect x="306.08" y="574.77" width="3.8" height="3.8" fill="#00ff00"/>
<rect x="309.45" y="574.77" width="3.8" height="3.8" fill="#00ff00"/>
<rect x="312.82" y="552.93" width="3.8" height="3.8" fill="#00ff00"/>
<rect x="316.18" y="531.10" width="3.8" height="3.8" fill="#00ff00"/>
<rect x="319.55" y="531.10" width="3.8" height="3.8" fill="#00ff00"/>
<rect x="322.92" y="531.10" width="3.8" height="3.8" fill="#00ff00"/>
<rect x="326.28" y="531.10" width="3.8" height="3.8" fill="#00ff00"/>
<rect x="329.65" y="552.93" width="3.8" height="3.8" fill="#00ff00"/>
<rect x="333.02" y="552.93" width="3.8" height="3.8" fill="#00ff00"/>
<rect x="336.38" y="574.77" width="3.8" height="3.8" fill="#00ff00"/>
<rect x="339.75" y="574.77" width="3.8" height="3.8" fill="#00ff00"/>
<rect x="343.12" y="574.77" width="3.8" height="3.8" fill="#00ff00"/>
<rect x="346.48" y="574.77" width="3.8" height="3.8" fill="#00ff00"/>
<rect x="349.85" y="574.77" width="3.8" height="3.8" fill="#00ff00"/>
<rect x="353.22" y="574.77" width="3.8" height="3.8" fill="#00ff00"/>
<rect x="356.58" y="574.77" width="3.8" height="3.8" fill="#00ff00"/>
<rect x="359.95" y="574.77" width="3.8" height="3.8" fill="#00ff00"/>
<rect x="363.32" y="574.77" width="3.8" height="3.8" fill="#00ff00"/>
<rect x="366.68" y="574.77" width="3.8" height="3.8" fill="#00ff00"/>
<rect x="370.05" y="574.77" width="3.8" height="3.8" fill="#00ff00"/>
<rect x="373.42" y="596.60" width="3.8" height="3.8" fill="#00ff00"/>
<rect x="376.78" y="574.77" width="3.8" height="3.8" fill="#00ff00"/>
<rect x="380.15" y="574.77" width="3.8" height="3.8" fill="#00ff00"/>
<rect x="383.52" y="574.77" width="3.8" height="3.8" fill="#00ff00"/>
<rect x="386.88" y="574.77" width="3.8" height="3.8" fill="#00ff00"/>
<rect x="390.25" y="574.77" width="3.8" height="3.8" fill="#00ff00"/>
<rect x="393.62" y="574.77" width="3.8" height="3.8" fill="#00ff00"/>
<rect x="396.98" y="574.77" width="3.8" height="3.8" fill="#00ff00"/>
<rect x="400.35" y="574.77" width="3.8" height="3.8" fill="#00ff00"/>
<rect x="403.72" y="574.77" width="3.8" height="3.8" fill="#00ff00"/>
<rect x="407.08" y="574.77" width="3.8" height="3.8" fill="#00ff00"/>
<rect x="410.45" y="596.60" width="3.8" height="3.8" fill="#00ff00"/>
<rect x="413.82" y="574.77" width="3.8" height="3.8" fill="#00ff00"/>
<rect x="417.18" y="574.77" width="3.8" height="3.8" fill="#00ff00"/>
<rect x="420.55" y="574.77" width="3.8" height="3.8" fill="#00ff00"/>
<rect x="423.92" y="574.77" width="3.8" height="3.8" fill="#00ff00"/>
<rect x="427.28" y="574.77" width="3.8" height="3.8" fill="#00ff00"/>
<rect x="430.65" y="574.77" width="3.8" height="3.8" fill="#00ff00"/>
<rect x="434.02" y="552.93" width="3.8" height="3.8" fill="#00ff00"/>
<rect x="437.38" y="552.93" width="3.8" height="3.8" fill="#00ff00"/>
<rect x="440.75" y="531.10" width="3.8" height="3.8" fill="#00ff00"/>
<rect x="444.12" y="531.10" width="3.8" height="3.8" fill="#00ff00"/>
<rect x="447.48" y="531.10" width="3.8" height="3.8" fill="#00ff00"/>
<rect x="450.85" y="552.93" width="3.8" height="3.8" fill="#00ff00"/>
<rect x="454.22" y="552.93" width="3.8" height="3.8" fill="#00ff00"/>
<rect x="457.58" y="552.93" width="3.8" height="3.8" fill="#00ff00"/>
<rect x="460.95" y="552.93" width="3.8" height="3.8" fill="#00ff00"/>
<rect x="464.32" y="552.93" width="3.8" height="3.8" fill="#00ff00"/>
<rect x="467.68" y="552.93" width="3.8" height="3.8" fill="#00ff00"/>
<rect x="471.05" y="574.77" width="3.8" height="3.8" fill="#00ff00"/>
<rect x="474.42" y="574.77" width="3.8" height="3.8" fill="#00ff00"/>
<rect x="477.78" y="574.77" width="3.8" height="3.8" fill="#00ff00"/>
<rect x="481.15" y="574.77" width="3.8" height="3.8" fill="#00ff00"/>
<rect x="484.52" y="596.60" width="3.8" height="3.8" fill="#00ff00"/>
<rect x="487.88" y="574.77" width="3.8" height="3.8" fill="#00ff00"/>
<rect x="491.25" y="574.77" width="3.8" height="3.8" fill="#00ff00"/>
<rect x="494.62" y="574.77" width="3.8" height="3.8" fill="#00ff00"/>
<rect x="497.98" y="574.77" width="3.8" height="3.8" fill="#00ff00"/>
<rect x="501.35" y="574.77" width="3.8" height="3.8" fill="#00ff00"/>
<rect x="504.72" y="574.77" width="3.8" height="3.8" fill="#00ff00"/>
<rect x="508.08" y="574.77" width="3.8" height="3.8" fill="#00ff00"/>
<rect x="511.45" y="596.60" width="3.8" height="3.8" fill="#00ff00"/>
<rect x="514.82" y="596.60" width="3.8" height="3.8" fill="#00ff00"/>
<rect x="518.18" y="596.60" width="3.8" height="3.8" fill="#00ff00"/>
<rect x="521.55" y="596.60" width="3.8" height="3.8" fill="#00ff00"/>
<rect x="524.92" y="596.60" width="3.8" height="3.8" fill="#00ff00"/>
<rect x="528.28" y="596.60" width="3.8" height="3.8" fill="#00ff00"/>
<rect x="531.65" y="574.77" width="3.8" height="3.8" fill="#00ff00"/>
<rect x="535.02" y="574.77" width="3.8" height="3.8" fill="#00ff00"/>
<rect x="538.38" y="574.77" width="3.8" height="3.8" fill="#00ff00"/>
<rect x="541.75" y="574.77" width="3.8" height="3.8" fill="#00ff00"/>
<rect x="545.12" y="574.77" width="3.8" height="3.8" fill="#00ff00"/>
<rect x="548.48" y="596.60" width="3.8" height="3.8" fill="#00ff00"/>
<rect x="551.85" y="596.60" width="3.8" height="3.8" fill="#00ff00"/>
<rect x="555.22" y="574.77" width="3.8" height="3.8" fill="#00ff00"/>
<rect x="558.58" y="574.77" width="3.8" height="3.8" fill="#00ff00"/>
<rect x="77.15" y="465.60" width="3.8" height="3.8" fill="#ff0000"/>
<rect x="80.52" y="465.60" width="3.8" height="3.8" fill="#ff0000"/>
<rect x="83.88" y="465.60" width="3.8" height="3.8" fill="#ff0000"/>
<rect x="87.25" y="487.43" width="3.8" height="3.8" fill="#ff0000"/>
<rect x="90.62" y="487.43" width="3.8" height="3.8" fill="#ff0000"/>
<rect x="93.98" y="487.43" width="3.8" height="3.8" fill="#ff0000"/>
<rect x="97.35" y="509.27" width="3.8" height="3.8" fill="#ff0000"/>
<rect x="100.72" y="509.27" width="3.8" height="3.8" fill="#ff0000"/>
<rect x="104.08" y="509.27" width="3.8" height="3.8" fill="#ff0000"/>
<rect x="107.45" y="509.27" width="3.8" height="3.8" fill="#ff0000"/>
<rect x="110.82" y="509.27" width="3.8" height="3.8" fill="#ff0000"/>
<rect x="114.18" y="509.27" width="3.8" height="3.8" fill="#ff0000"/>
<rect x="117.55" y="509.27" width="3.8" height="3.8" fill="#ff0000"/>
<rect x="120.92" y="509.27" width="3.8" height="3.8" fill="#ff0000"/>
<rect x="124.28" y="509.27" width="3.8" height="3.8" fill="#ff0000"/>
<rect x="127.65" y="509.27" width="3.8" height="3.8" fill="#ff0000"/>
<rect x="131.02" y="509.27" width="3.8" height="3.8" fill="#ff0000"/>
<rect x="134.38" y="509.27" width="3.8" height="3.8" fill="#ff0000"/>
<rect x="137.75" y="531.10" width="3.8" height="3.8" fill="#ff0000"/>
<rect x="141.12" y="509.27" width="3.8" height="3.8" fill="#ff0000"/>
<rect x="144.48" y="509.27" width="3.8" height="3.8" fill="#ff0000"/>
<rect x="147.85" y="531.10" width="3.8" height="3.8" fill="#ff0000"/>
<rect x="151.22" y="531.10" width="3.8" height="3.8" fill="#ff0000"/>
<rect x="154.58" y="531.10" width="3.8" height="3.8" fill="#ff0000"/>
<rect x="157.95" y="531.10" width="3.8" height="3.8" fill="#ff0000"/>
<rect x="161.32" y="509.27" width="3.8" height="3.8" fill="#ff0000"/>
<rect x="164.68" y="509.27" width="3.8" height="3.8" fill="#ff0000"/>
<rect x="168.05" y="531.10" width="3.8" height="3.8" fill="#ff0000"/>
<rect x="171.42" y="531.10" width="3.8" height="3.8" fill="#ff0000"/>
<rect x="174.78" y="531.10" width="3.8" height="3.8" fill="#ff0000"/>
<rect x="178.15" y="531.10" width="3.8" height="3.8" fill="#ff0000"/>
<rect x="181.52" y="531.10" width="3.8" height="3.8" fill="#ff0000"/>
<rect x="184.88" y="509.27" width="3.8" height="3.8" fill="#ff0000"/>
<rect x="188.25" y="509.27" width="3.8" height="3.8" fill="#ff0000"/>
<rect x="191.62" y="487.43" width="3.8" height="3.8" fill="#ff0000"/>
<rect x="194.98" y="487.43" width="3.8" height="3.8" fill="#ff0000"/>
<rect x="198.35" y="487.43" width="3.8" height="3.8" fill="#ff0000"/>
<rect x="201.72" y="487.43" width="3.8" height="3.8" fill="#ff0000"/>
<rect x="205.08" y="487.43" width="3.8" height="3.8" fill="#ff0000"/>
<rect x="208.45" y="487.43" width="3.8" height="3.8" fill="#ff0000"/>
<rect x="211.82" y="509.27" width="3.8" height="3.8" fill="#ff0000"/>
<rect x="215.18" y="509.27" width="3.8" height="3.8" fill="#ff0000"/>
<rect x="218.55" y="509.27" width="3.8" height="3.8" fill="#ff0000"/>
<rect x="221.92" y="509.27" width="3.8" height="3.8" fill="#ff0000"/>
<rect x="225.28" y="509.27" width="3.8" height="3.8" fill="#ff0000"/>
<rect x="228.65" y="531.10" width="3.8" height="3.8" fill="#ff0000"/>
<rect x="232.02" y="531.10" width="3.8" height="3.8" fill="#ff0000"/>
<rect x="235.38" y="509.27" width="3.8" height="3.8" fill="#ff0000"/>
<rect x="238.75" y="509.27" width="3.8" height="3.8" fill="#ff0000"/>
<rect x="242.12" y="509.27" width="3.8" height="3.8" fill="#ff0000"/>
<rect x="245.48" y="509.27" width="3.8" height="3.8" fill="#ff0000"/>
<rect x="248.85" y="509.27" width="3.8" height="3.8" fill="#ff0000"/>
<rect x="252.22" y="509.27" width="3.8" height="3.8" fill="#ff0000"/>
<rect x="255.58" y="509.27" width="3.8" height="3.8" fill="#ff0000"/>
<rect x="258.95" y="509.27" width="3.8" height="3.8" fill="#ff0000"/>
<rect x="262.32" y="531.10" width="3.8" height="3.8" fill="#ff0000"/>
<rect x="265.68" y="531.10" width="3.8" height="3.8" fill="#ff0000"/>
<rect x="269.05" y="531.10" width="3.8" height="3.8" fill="#ff0000"/>
<rect x="272.42" y="531.10" width="3.8" height="3.8" fill="#ff0000"/>
<rect x="275.78" y="531.10" width="3.8" height="3.8" fill="#ff0000"/>
<rect x="279.15" y="531.10" width="3.8" height="3.8" fill="#ff0000"/>
<rect x="282.52" y="509.27" width="3.8" height="3.8" fill="#ff0000"/>
<rect x="285.88" y="509.27" width="3.8" height="3.8" fill="#ff0000"/>
<rect x="289.25" y="509.27" width="3.8" height="3.8" fill="#ff0000"/>
<rect x="292.62" y="509.27" width="3.8" height="3.8" fill="#ff0000"/>
<rect x="295.98" y="509.27" width="3.8" height="3.8" fill="#ff0000"/>
<rect x="299.35" y="509.27" width="3.8" height="3.8" fill="#ff0000"/>
<rect x="302.72" y="531.10" width="3.8" height="3.8" fill="#ff0000"/>
<rect x="306.08" y="509.27" width="3.8" height="3.8" fill="#ff0000"/>
<rect x="309.45" y="509.27" width="3.8" height="3.8" fill="#ff0000"/>
<rect x="312.82" y="487.43" width="3.8" height="3.8" fill="#ff0000"/>
<rect x="316.18" y="465.60" width="3.8" height="3.8" fill="#ff0000"/>
<rect x="319.55" y="465.60" width="3.8" height="3.8" fill="#ff0000"/>
<rect x="322.92" y="465.60" width="3.8" height="3.8" fill="#ff0000"/>
<rect x="326.28" y="465.60" width="3.8" height="3.8" fill="#ff0000"/>
<rect x="329.65" y="465.60" width="3.8" height="3.8" fill="#ff0000"/>
<rect x="333.02" y="487.43" width="3.8" height="3.8" fill="#ff0000"/>
<rect x="336.38" y="487.43" width="3.8" height="3.8" fill="#ff0000"/>
<rect x="339.75" y="509.27" width="3.8" height="3.8" fill="#ff0000"/>
<rect x="343.12" y="509.27" width="3.8" height="3.8" fill="#ff0000"/>
<rect x="346.48" y="509.27" width="3.8" height="3.8" fill="#ff0000"/>
<rect x="349.85" y="509.27" width="3.8" height="3.8" fill="#ff0000"/>
<rect x="353.22" y="509.27" width="3.8" height="3.8" fill="#ff0000"/>
<rect x="356.58" y="509.27" width="3.8" height="3.8" fill="#ff0000"/>
<rect x="359.95" y="509.27" width="3.8" height="3.8" fill="#ff0000"/>
<rect x="363.32" y="509.27" width="3.8" height="3.8" fill="#ff0000"/>
<rect x="366.68" y="509.27" width="3.8" height="3.8" fill="#ff0000"/>
<rect x="370.05" y="509.27" width="3.8" height="3.8" fill="#ff0000"/>
<rect x="373.42" y="509.27" width="3.8" height="3.8" fill="#ff0000"/>
<rect x="376.78" y="509.27" width="3.8" height="3.8" fill="#ff0000"/>
<rect x="380.15" y="509.27" width="3.8" height="3.8" fill="#ff0000"/>
<rect x="383.52" y="509.27" width="3.8" height="3.8" fill="#ff0000"/>
<rect x="386.88" y="509.27" width="3.8" height="3.8" fill="#ff0000"/>
<rect x="390.25" y="509.27" width="3.8" height="3.8" fill="#ff0000"/>
<rect x="393.62" y="509.27" width="3.8" height="3.8" fill="#ff0000"/>
<rect x="396.98" y="509.27" width="3.8" height="3.8" fill="#ff0000"/>
<rect x="400.35" y="509.27" width="3.8" height="3.8" fill="#ff0000"/>
<rect x="403.72" y="509.27" width="3.8" height="3.8" fill="#ff0000"/>
<rect x="407.08" y="509.27" width="3.8" height="3.8" fill="#ff0000"/>
<rect x="410.45" y="509.27" width="3.8" height="3.8" fill="#ff0000"/>
<rect x="413.82" y="509.27" width="3.8" height="3.8" fill="#ff0000"/>
<rect x="417.18" y="509.27" width="3.8" height="3.8" fill="#ff0000"/>
<rect x="420.55" y="509.27" width="3.8" height="3.8" fill="#ff0000"/>
<rect x="423.92" y="509.27" width="3.8" height="3.8" fill="#ff0000"/>
<rect x="427.28" y="509.27" width="3.8" height="3.8" fill="#ff0000"/>
<rect x="430.65" y="509.27" width="3.8" height="3.8" fill="#ff0000"/>
<rect x="434.02" y="487.43" width="3.8" height="3.8" fill="#ff0000"/>
<rect x="437.38" y="487.43" width="3.8" height="3.8" fill="#ff0000"/>
<rect x="440.75" y="465.60" width="3.8" height="3.8" fill="#ff0000"/>
<rect x="444.12" y="465.60" width="3.8" height="3.8" fill="#ff0000"/>
<rect x="447.48" y="465.60" width="3.8" height="3.8" fill="#ff0000"/>
<rect x="450.85" y="465.60" width="3.8" height="3.8" fill="#ff0000"/>
<rect x="454.22" y="487.43" width="3.8" height="3.8" fill="#ff0000"/>
<rect x="457.58" y="487.43" width="3.8" height="3.8" fill="#ff0000"/>
<rect x="460.95" y="487.43" width="3.8" height="3.8" fill="#ff0000"/>
<rect x="464.32" y="487.43" width="3.8" height="3.8" fill="#ff0000"/>
<rect x="467.68" y="487.43" width="3.8" height="3.8" fill="#ff0000"/>
<rect x="471.05" y="487.43" width="3.8" height="3.8" fill="#ff0000"/>
<rect x="474.42" y="509.27" width="3.8" height="3.8" fill="#ff0000"/>
<rect x="477.78" y="509.27" width="3.8" height="3.8" fill="#ff0000"/>
<rect x="481.15" y="509.27" width="3.8" height="3.8" fill="#ff0000"/>
<rect x="484.52" y="509.27" width="3.8" height="3.8" fill="#ff0000"/>
<rect x="487.88" y="509.27" width="3.8" height="3.8" fill="#ff0000"/>
<rect x="491.25" y="509.27" width="3.8" height="3.8" fill="#ff0000"/>
<rect x="494.62" y="509.27" width="3.8" height="3.8" fill="#ff0000"/>
<rect x="497.98" y="509.27" width="3.8" height="3.8" fill="#ff0000"/>
<rect x="501.35" y="509.27" width="3.8" height="3.8" fill="#ff0000"/>
<rect x="504.72" y="509.27" width="3.8" height="3.8" fill="#ff0000"/>
<rect x="508.08" y="509.27" width="3.8" height="3.8" fill="#ff0000"/>
<rect x="511.45" y="509.27" width="3.8" height="3.8" fill="#ff0000"/>
<rect x="514.82" y="531.10" width="3.8" height="3.8" fill="#ff0000"/>
<rect x="518.18" y="531.10" width="3.8" height="3.8" fill="#ff0000"/>
<rect x="521.55" y="531.10" width="3.8" height="3.8" fill="#ff0000"/>
<rect x="524.92" y="531.10" width="3.8" height="3.8" fill="#ff0000"/>
<rect x="528.28" y="531.10" width="3.8" height="3.8" fill="#ff0000"/>
<rect x="531.65" y="509.27" width="3.8" height="3.8" fill="#ff0000"/>
<rect x="535.02" y="509.27" width="3.8" height="3.8" fill="#ff0000"/>
<rect x="538.38" y="509.27" width="3.8" height="3.8" fill="#ff0000"/>
<rect x="541.75" y="509.27" width="3.8" height="3.8" fill="#ff0000"/>
<rect x="545.12" y="509.27" width="3.8" height="3.8" fill="#ff0000"/>
<rect x="548.48" y="509.27" width="3.8" height="3.8" fill="#ff0000"/>
<rect x="551.85" y="531.10" width="3.8" height="3.8" fill="#ff0000"/>
<rect x="555.22" y="531.10" width="3.8" height="3.8" fill="#ff0000"/>
<rect x="558.58" y="509.27" width="3.8" height="3.8" fill="#ff0000"/>
</g>
<g class="ax ce">
<rect x="79.5" y="467.5" width="484.0" height="131.0"/>
<line x1="79.5" y1="576.50" x2="93.0" y2="576.50"/><line x1="550.0" y1="576.50" x2="563.5" y2="576.50"/>
<line x1="79.5" y1="554.50" x2="93.0" y2="554.50"/><line x1="550.0" y1="554.50" x2="563.5" y2="554.50"/>
<line x1="79.5" y1="533.50" x2="93.0" y2="533.50"/><line x1="550.0" y1="533.50" x2="563.5" y2="533.50"/>
<line x1="79.5" y1="511.50" x2="93.0" y2="511.50"/><line x1="550.0" y1="511.50" x2="563.5" y2="511.50"/>
<line x1="79.5" y1="489.50" x2="93.0" y2="489.50"/><line x1="550.0" y1="489.50" x2="563.5" y2="489.50"/>
<line x1="79.5" y1="587.50" x2="86.0" y2="587.50"/><line x1="557.0" y1="587.50" x2="563.5" y2="587.50"/>
<line x1="79.5" y1="565.50" x2="86.0" y2="565.50"/><line x1="557.0" y1="565.50" x2="563.5" y2="565.50"/>
<line x1="79.5" y1="543.50" x2="86.0" y2="543.50"/><line x1="557.0" y1="543.50" x2="563.5" y2="543.50"/>
<line x1="79.5" y1="522.50" x2="86.0" y2="522.50"/><line x1="557.0" y1="522.50" x2="563.5" y2="522.50"/>
<line x1="79.5" y1="500.50" x2="86.0" y2="500.50"/><line x1="557.0" y1="500.50" x2="563.5" y2="500.50"/>
<line x1="79.5" y1="478.50" x2="86.0" y2="478.50"/><line x1="557.0" y1="478.50" x2="563.5" y2="478.50"/>
<line x1="99.50" y1="467.5" x2="99.50" y2="475.0"/><line x1="99.50" y1="591.0" x2="99.50" y2="598.5"/>
<line x1="119.50" y1="467.5" x2="119.50" y2="481.0"/><line x1="119.50" y1="585.0" x2="119.50" y2="598.5"/>
<line x1="139.50" y1="467.5" x2="139.50" y2="475.0"/><line x1="139.50" y1="591.0" x2="139.50" y2="598.5"/>
<line x1="159.50" y1="467.5" x2="159.50" y2="481.0"/><line x1="159.50" y1="585.0" x2="159.50" y2="598.5"/>
<line x1="180.50" y1="467.5" x2="180.50" y2="475.0"/><line x1="180.50" y1="591.0" x2="180.50" y2="598.5"/>
<line x1="200.50" y1="467.5" x2="200.50" y2="481.0"/><line x1="200.50" y1="585.0" x2="200.50" y2="598.5"/>
<line x1="220.50" y1="467.5" x2="220.50" y2="475.0"/><line x1="220.50" y1="591.0" x2="220.50" y2="598.5"/>
<line x1="240.50" y1="467.5" x2="240.50" y2="481.0"/><line x1="240.50" y1="585.0" x2="240.50" y2="598.5"/>
<line x1="260.50" y1="467.5" x2="260.50" y2="475.0"/><line x1="260.50" y1="591.0" x2="260.50" y2="598.5"/>
<line x1="281.50" y1="467.5" x2="281.50" y2="481.0"/><line x1="281.50" y1="585.0" x2="281.50" y2="598.5"/>
<line x1="301.50" y1="467.5" x2="301.50" y2="475.0"/><line x1="301.50" y1="591.0" x2="301.50" y2="598.5"/>
<line x1="321.50" y1="467.5" x2="321.50" y2="481.0"/><line x1="321.50" y1="585.0" x2="321.50" y2="598.5"/>
<line x1="341.50" y1="467.5" x2="341.50" y2="475.0"/><line x1="341.50" y1="591.0" x2="341.50" y2="598.5"/>
<line x1="361.50" y1="467.5" x2="361.50" y2="481.0"/><line x1="361.50" y1="585.0" x2="361.50" y2="598.5"/>
<line x1="382.50" y1="467.5" x2="382.50" y2="475.0"/><line x1="382.50" y1="591.0" x2="382.50" y2="598.5"/>
<line x1="402.50" y1="467.5" x2="402.50" y2="481.0"/><line x1="402.50" y1="585.0" x2="402.50" y2="598.5"/>
<line x1="422.50" y1="467.5" x2="422.50" y2="475.0"/><line x1="422.50" y1="591.0" x2="422.50" y2="598.5"/>
<line x1="442.50" y1="467.5" x2="442.50" y2="481.0"/><line x1="442.50" y1="585.0" x2="442.50" y2="598.5"/>
<line x1="462.50" y1="467.5" x2="462.50" y2="475.0"/><line x1="462.50" y1="591.0" x2="462.50" y2="598.5"/>
<line x1="483.50" y1="467.5" x2="483.50" y2="481.0"/><line x1="483.50" y1="585.0" x2="483.50" y2="598.5"/>
<line x1="503.50" y1="467.5" x2="503.50" y2="475.0"/><line x1="503.50" y1="591.0" x2="503.50" y2="598.5"/>
<line x1="523.50" y1="467.5" x2="523.50" y2="481.0"/><line x1="523.50" y1="585.0" x2="523.50" y2="598.5"/>
<line x1="543.50" y1="467.5" x2="543.50" y2="475.0"/><line x1="543.50" y1="591.0" x2="543.50" y2="598.5"/>
</g>
<text x="73.5" y="604.5" font-size="17.6" text-anchor="end" textLength="21.3" lengthAdjust="spacingAndGlyphs">28</text>
<text x="73.5" y="582.5" font-size="17.6" text-anchor="end" textLength="21.3" lengthAdjust="spacingAndGlyphs">29</text>
<text x="73.5" y="560.5" font-size="17.6" text-anchor="end" textLength="21.3" lengthAdjust="spacingAndGlyphs">30</text>
<text x="73.5" y="539.5" font-size="17.6" text-anchor="end" textLength="21.3" lengthAdjust="spacingAndGlyphs">31</text>
<text x="73.5" y="517.5" font-size="17.6" text-anchor="end" textLength="21.3" lengthAdjust="spacingAndGlyphs">32</text>
<text x="73.5" y="495.5" font-size="17.6" text-anchor="end" textLength="21.3" lengthAdjust="spacingAndGlyphs">33</text>
<text x="73.5" y="473.5" font-size="17.6" text-anchor="end" textLength="21.3" lengthAdjust="spacingAndGlyphs">34</text>
<text x="80.0" y="618.2" font-size="17.6" text-anchor="middle" textLength="11.4" lengthAdjust="spacingAndGlyphs">0</text>
<text x="120.3" y="618.2" font-size="17.6" text-anchor="middle" textLength="11.4" lengthAdjust="spacingAndGlyphs">2</text>
<text x="160.8" y="618.2" font-size="17.6" text-anchor="middle" textLength="11.4" lengthAdjust="spacingAndGlyphs">4</text>
<text x="201.2" y="618.2" font-size="17.6" text-anchor="middle" textLength="11.4" lengthAdjust="spacingAndGlyphs">6</text>
<text x="241.5" y="618.2" font-size="17.6" text-anchor="middle" textLength="11.4" lengthAdjust="spacingAndGlyphs">8</text>
<text x="281.4" y="618.2" font-size="17.6" text-anchor="middle" textLength="21.3" lengthAdjust="spacingAndGlyphs">10</text>
<text x="321.8" y="618.2" font-size="17.6" text-anchor="middle" textLength="21.3" lengthAdjust="spacingAndGlyphs">12</text>
<text x="362.2" y="618.2" font-size="17.6" text-anchor="middle" textLength="21.3" lengthAdjust="spacingAndGlyphs">14</text>
<text x="402.6" y="618.2" font-size="17.6" text-anchor="middle" textLength="21.3" lengthAdjust="spacingAndGlyphs">16</text>
<text x="443.0" y="618.2" font-size="17.6" text-anchor="middle" textLength="21.3" lengthAdjust="spacingAndGlyphs">18</text>
<text x="483.4" y="618.2" font-size="17.6" text-anchor="middle" textLength="21.3" lengthAdjust="spacingAndGlyphs">20</text>
<text x="523.8" y="618.2" font-size="17.6" text-anchor="middle" textLength="21.3" lengthAdjust="spacingAndGlyphs">22</text>
<text x="564.2" y="618.2" font-size="17.6" text-anchor="middle" textLength="21.3" lengthAdjust="spacingAndGlyphs">24</text>
<text font-size="18" text-anchor="middle" textLength="53.6" lengthAdjust="spacingAndGlyphs" transform="translate(42.8,532.6) rotate(-90)">T [°C]</text>
<g class="ce">
<rect x="575" y="490" width="4" height="4" fill="#ff0000"/>
<rect x="575" y="507" width="4" height="4" fill="#00ff00"/>
</g>
<text x="592.2" y="498" font-size="13.2" stroke-width="0.2" textLength="35.5" lengthAdjust="spacingAndGlyphs">hdd1</text>
<text x="592.2" y="513.8" font-size="13.2" stroke-width="0.2" textLength="35.8" lengthAdjust="spacingAndGlyphs">hdd2</text>
<g class="g ce">
<line x1="79.5" y1="762.50" x2="563.5" y2="762.50"/>
<line x1="79.5" y1="729.50" x2="563.5" y2="729.50"/>
<line x1="79.5" y1="696.50" x2="563.5" y2="696.50"/>
<line x1="119.50" y1="664.5" x2="119.50" y2="794.5"/>
<line x1="159.50" y1="664.5" x2="159.50" y2="794.5"/>
<line x1="200.50" y1="664.5" x2="200.50" y2="794.5"/>
<line x1="240.50" y1="664.5" x2="240.50" y2="794.5"/>
<line x1="281.50" y1="664.5" x2="281.50" y2="794.5"/>
<line x1="321.50" y1="664.5" x2="321.50" y2="794.5"/>
<line x1="361.50" y1="664.5" x2="361.50" y2="794.5"/>
<line x1="402.50" y1="664.5" x2="402.50" y2="794.5"/>
<line x1="442.50" y1="664.5" x2="442.50" y2="794.5"/>
<line x1="483.50" y1="664.5" x2="483.50" y2="794.5"/>
<line x1="523.50" y1="664.5" x2="523.50" y2="794.5"/>
</g>
<g class="ce">
<rect x="77.15" y="704.50" width="3.8" height="3.8" fill="#0000ff"/>
<rect x="80.52" y="701.30" width="3.8" height="3.8" fill="#0000ff"/>
<rect x="83.88" y="720.00" width="3.8" height="3.8" fill="#0000ff"/>
<rect x="87.25" y="720.00" width="3.8" height="3.8" fill="#0000ff"/>
<rect x="90.62" y="719.10" width="3.8" height="3.8" fill="#0000ff"/>
<rect x="93.98" y="704.50" width="3.8" height="3.8" fill="#0000ff"/>
<rect x="97.35" y="737.00" width="3.8" height="3.8" fill="#0000ff"/>
<rect x="100.72" y="722.10" width="3.8" height="3.8" fill="#0000ff"/>
<rect x="104.08" y="722.10" width="3.8" height="3.8" fill="#0000ff"/>
<rect x="107.45" y="701.30" width="3.8" height="3.8" fill="#0000ff"/>
<rect x="110.82" y="720.00" width="3.8" height="3.8" fill="#0000ff"/>
<rect x="114.18" y="719.10" width="3.8" height="3.8" fill="#0000ff"/>
<rect x="117.55" y="722.10" width="3.8" height="3.8" fill="#0000ff"/>
<rect x="120.92" y="719.10" width="3.8" height="3.8" fill="#0000ff"/>
<rect x="124.28" y="701.30" width="3.8" height="3.8" fill="#0000ff"/>
<rect x="127.65" y="702.20" width="3.8" height="3.8" fill="#0000ff"/>
<rect x="131.02" y="737.00" width="3.8" height="3.8" fill="#0000ff"/>
<rect x="134.38" y="737.00" width="3.8" height="3.8" fill="#0000ff"/>
<rect x="137.75" y="722.10" width="3.8" height="3.8" fill="#0000ff"/>
<rect x="141.12" y="722.10" width="3.8" height="3.8" fill="#0000ff"/>
<rect x="144.48" y="720.00" width="3.8" height="3.8" fill="#0000ff"/>
<rect x="147.85" y="702.20" width="3.8" height="3.8" fill="#0000ff"/>
<rect x="151.22" y="720.00" width="3.8" height="3.8" fill="#0000ff"/>
<rect x="154.58" y="737.00" width="3.8" height="3.8" fill="#0000ff"/>
<rect x="157.95" y="720.00" width="3.8" height="3.8" fill="#0000ff"/>
<rect x="161.32" y="737.00" width="3.8" height="3.8" fill="#0000ff"/>
<rect x="164.68" y="737.00" width="3.8" height="3.8" fill="#0000ff"/>
<rect x="168.05" y="720.00" width="3.8" height="3.8" fill="#0000ff"/>
<rect x="171.42" y="720.00" width="3.8" height="3.8" fill="#0000ff"/>
<rect x="174.78" y="719.10" width="3.8" height="3.8" fill="#0000ff"/>
<rect x="178.15" y="722.10" width="3.8" height="3.8" fill="#0000ff"/>
<rect x="181.52" y="740.10" width="3.8" height="3.8" fill="#0000ff"/>
<rect x="184.88" y="740.10" width="3.8" height="3.8" fill="#0000ff"/>
<rect x="188.25" y="737.00" width="3.8" height="3.8" fill="#0000ff"/>
<rect x="191.62" y="740.10" width="3.8" height="3.8" fill="#0000ff"/>
<rect x="194.98" y="737.00" width="3.8" height="3.8" fill="#0000ff"/>
<rect x="198.35" y="719.10" width="3.8" height="3.8" fill="#0000ff"/>
<rect x="201.72" y="719.10" width="3.8" height="3.8" fill="#0000ff"/>
<rect x="205.08" y="737.00" width="3.8" height="3.8" fill="#0000ff"/>
<rect x="208.45" y="737.00" width="3.8" height="3.8" fill="#0000ff"/>
<rect x="211.82" y="737.00" width="3.8" height="3.8" fill="#0000ff"/>
<rect x="215.18" y="722.10" width="3.8" height="3.8" fill="#0000ff"/>
<rect x="218.55" y="737.00" width="3.8" height="3.8" fill="#0000ff"/>
<rect x="221.92" y="720.00" width="3.8" height="3.8" fill="#0000ff"/>
<rect x="225.28" y="740.10" width="3.8" height="3.8" fill="#0000ff"/>
<rect x="228.65" y="720.00" width="3.8" height="3.8" fill="#0000ff"/>
<rect x="232.02" y="737.00" width="3.8" height="3.8" fill="#0000ff"/>
<rect x="235.38" y="740.10" width="3.8" height="3.8" fill="#0000ff"/>
<rect x="238.75" y="740.10" width="3.8" height="3.8" fill="#0000ff"/>
<rect x="242.12" y="737.00" width="3.8" height="3.8" fill="#0000ff"/>
<rect x="245.48" y="720.00" width="3.8" height="3.8" fill="#0000ff"/>
<rect x="248.85" y="719.10" width="3.8" height="3.8" fill="#0000ff"/>
<rect x="252.22" y="737.00" width="3.8" height="3.8" fill="#0000ff"/>
<rect x="255.58" y="737.00" width="3.8" height="3.8" fill="#0000ff"/>
<rect x="258.95" y="720.00" width="3.8" height="3.8" fill="#0000ff"/>
<rect x="262.32" y="737.00" width="3.8" height="3.8" fill="#0000ff"/>
<rect x="265.68" y="740.10" width="3.8" height="3.8" fill="#0000ff"/>
<rect x="269.05" y="740.10" width="3.8" height="3.8" fill="#0000ff"/>
<rect x="272.42" y="721.50" width="3.8" height="3.8" fill="#0000ff"/>
<rect x="275.78" y="721.50" width="3.8" height="3.8" fill="#0000ff"/>
<rect x="279.15" y="740.10" width="3.8" height="3.8" fill="#0000ff"/>
<rect x="282.52" y="722.10" width="3.8" height="3.8" fill="#0000ff"/>
<rect x="285.88" y="740.10" width="3.8" height="3.8" fill="#0000ff"/>
<rect x="289.25" y="719.10" width="3.8" height="3.8" fill="#0000ff"/>
<rect x="292.62" y="719.10" width="3.8" height="3.8" fill="#0000ff"/>
<rect x="295.98" y="715.80" width="3.8" height="3.8" fill="#0000ff"/>
<rect x="299.35" y="720.00" width="3.8" height="3.8" fill="#0000ff"/>
<rect x="302.72" y="737.00" width="3.8" height="3.8" fill="#0000ff"/>
<rect x="306.08" y="740.10" width="3.8" height="3.8" fill="#0000ff"/>
<rect x="309.45" y="704.10" width="3.8" height="3.8" fill="#0000ff"/>
<rect x="312.82" y="722.10" width="3.8" height="3.8" fill="#0000ff"/>
<rect x="316.18" y="683.10" width="3.8" height="3.8" fill="#0000ff"/>
<rect x="319.55" y="704.50" width="3.8" height="3.8" fill="#0000ff"/>
<rect x="322.92" y="704.50" width="3.8" height="3.8" fill="#0000ff"/>
<rect x="326.28" y="720.00" width="3.8" height="3.8" fill="#0000ff"/>
<rect x="329.65" y="720.00" width="3.8" height="3.8" fill="#0000ff"/>
<rect x="333.02" y="701.30" width="3.8" height="3.8" fill="#0000ff"/>
<rect x="336.38" y="720.00" width="3.8" height="3.8" fill="#0000ff"/>
<rect x="339.75" y="718.70" width="3.8" height="3.8" fill="#0000ff"/>
<rect x="343.12" y="722.10" width="3.8" height="3.8" fill="#0000ff"/>
<rect x="346.48" y="722.10" width="3.8" height="3.8" fill="#0000ff"/>
<rect x="349.85" y="722.10" width="3.8" height="3.8" fill="#0000ff"/>
<rect x="353.22" y="701.30" width="3.8" height="3.8" fill="#0000ff"/>
<rect x="356.58" y="722.10" width="3.8" height="3.8" fill="#0000ff"/>
<rect x="359.95" y="720.00" width="3.8" height="3.8" fill="#0000ff"/>
<rect x="363.32" y="720.00" width="3.8" height="3.8" fill="#0000ff"/>
<rect x="366.68" y="720.00" width="3.8" height="3.8" fill="#0000ff"/>
<rect x="370.05" y="684.00" width="3.8" height="3.8" fill="#0000ff"/>
<rect x="373.42" y="719.10" width="3.8" height="3.8" fill="#0000ff"/>
<rect x="376.78" y="704.50" width="3.8" height="3.8" fill="#0000ff"/>
<rect x="380.15" y="703.70" width="3.8" height="3.8" fill="#0000ff"/>
<rect x="383.52" y="722.10" width="3.8" height="3.8" fill="#0000ff"/>
<rect x="386.88" y="704.50" width="3.8" height="3.8" fill="#0000ff"/>
<rect x="390.25" y="719.10" width="3.8" height="3.8" fill="#0000ff"/>
<rect x="393.62" y="722.10" width="3.8" height="3.8" fill="#0000ff"/>
<rect x="396.98" y="701.30" width="3.8" height="3.8" fill="#0000ff"/>
<rect x="400.35" y="720.00" width="3.8" height="3.8" fill="#0000ff"/>
<rect x="403.72" y="701.30" width="3.8" height="3.8" fill="#0000ff"/>
<rect x="407.08" y="720.00" width="3.8" height="3.8" fill="#0000ff"/>
<rect x="410.45" y="722.10" width="3.8" height="3.8" fill="#0000ff"/>
<rect x="413.82" y="704.50" width="3.8" height="3.8" fill="#0000ff"/>
<rect x="417.18" y="686.10" width="3.8" height="3.8" fill="#0000ff"/>
<rect x="420.55" y="722.10" width="3.8" height="3.8" fill="#0000ff"/>
<rect x="423.92" y="704.50" width="3.8" height="3.8" fill="#0000ff"/>
<rect x="427.28" y="719.10" width="3.8" height="3.8" fill="#0000ff"/>
<rect x="430.65" y="719.10" width="3.8" height="3.8" fill="#0000ff"/>
<rect x="434.02" y="701.30" width="3.8" height="3.8" fill="#0000ff"/>
<rect x="437.38" y="737.00" width="3.8" height="3.8" fill="#0000ff"/>
<rect x="440.75" y="719.90" width="3.8" height="3.8" fill="#0000ff"/>
<rect x="444.12" y="719.90" width="3.8" height="3.8" fill="#0000ff"/>
<rect x="447.48" y="718.90" width="3.8" height="3.8" fill="#0000ff"/>
<rect x="450.85" y="721.90" width="3.8" height="3.8" fill="#0000ff"/>
<rect x="454.22" y="721.90" width="3.8" height="3.8" fill="#0000ff"/>
<rect x="457.58" y="721.90" width="3.8" height="3.8" fill="#0000ff"/>
<rect x="460.95" y="718.90" width="3.8" height="3.8" fill="#0000ff"/>
<rect x="464.32" y="704.50" width="3.8" height="3.8" fill="#0000ff"/>
<rect x="467.68" y="718.90" width="3.8" height="3.8" fill="#0000ff"/>
<rect x="471.05" y="719.90" width="3.8" height="3.8" fill="#0000ff"/>
<rect x="474.42" y="719.90" width="3.8" height="3.8" fill="#0000ff"/>
<rect x="477.78" y="701.70" width="3.8" height="3.8" fill="#0000ff"/>
<rect x="481.15" y="736.90" width="3.8" height="3.8" fill="#0000ff"/>
<rect x="484.52" y="718.90" width="3.8" height="3.8" fill="#0000ff"/>
<rect x="487.88" y="704.50" width="3.8" height="3.8" fill="#0000ff"/>
<rect x="491.25" y="721.90" width="3.8" height="3.8" fill="#0000ff"/>
<rect x="494.62" y="718.90" width="3.8" height="3.8" fill="#0000ff"/>
<rect x="497.98" y="736.90" width="3.8" height="3.8" fill="#0000ff"/>
<rect x="501.35" y="721.90" width="3.8" height="3.8" fill="#0000ff"/>
<rect x="504.72" y="736.90" width="3.8" height="3.8" fill="#0000ff"/>
<rect x="508.08" y="719.90" width="3.8" height="3.8" fill="#0000ff"/>
<rect x="511.45" y="719.90" width="3.8" height="3.8" fill="#0000ff"/>
<rect x="514.82" y="719.90" width="3.8" height="3.8" fill="#0000ff"/>
<rect x="518.18" y="721.90" width="3.8" height="3.8" fill="#0000ff"/>
<rect x="521.55" y="721.90" width="3.8" height="3.8" fill="#0000ff"/>
<rect x="524.92" y="739.90" width="3.8" height="3.8" fill="#0000ff"/>
<rect x="528.28" y="739.90" width="3.8" height="3.8" fill="#0000ff"/>
<rect x="531.65" y="739.90" width="3.8" height="3.8" fill="#0000ff"/>
<rect x="535.02" y="739.90" width="3.8" height="3.8" fill="#0000ff"/>
<rect x="538.38" y="739.90" width="3.8" height="3.8" fill="#0000ff"/>
<rect x="541.75" y="736.90" width="3.8" height="3.8" fill="#0000ff"/>
<rect x="545.12" y="736.90" width="3.8" height="3.8" fill="#0000ff"/>
<rect x="548.48" y="736.90" width="3.8" height="3.8" fill="#0000ff"/>
<rect x="551.85" y="736.90" width="3.8" height="3.8" fill="#0000ff"/>
<rect x="555.22" y="718.90" width="3.8" height="3.8" fill="#0000ff"/>
<rect x="558.58" y="733.80" width="3.8" height="3.8" fill="#0000ff"/>
</g>
<g class="ax ce">
<rect x="79.5" y="664.5" width="484.0" height="130.0"/>
<line x1="79.5" y1="762.50" x2="93.0" y2="762.50"/><line x1="550.0" y1="762.50" x2="563.5" y2="762.50"/>
<line x1="79.5" y1="729.50" x2="93.0" y2="729.50"/><line x1="550.0" y1="729.50" x2="563.5" y2="729.50"/>
<line x1="79.5" y1="696.50" x2="93.0" y2="696.50"/><line x1="550.0" y1="696.50" x2="563.5" y2="696.50"/>
<line x1="79.5" y1="778.50" x2="86.0" y2="778.50"/><line x1="557.0" y1="778.50" x2="563.5" y2="778.50"/>
<line x1="79.5" y1="745.50" x2="86.0" y2="745.50"/><line x1="557.0" y1="745.50" x2="563.5" y2="745.50"/>
<line x1="79.5" y1="713.50" x2="86.0" y2="713.50"/><line x1="557.0" y1="713.50" x2="563.5" y2="713.50"/>
<line x1="79.5" y1="680.50" x2="86.0" y2="680.50"/><line x1="557.0" y1="680.50" x2="563.5" y2="680.50"/>
<line x1="99.50" y1="664.5" x2="99.50" y2="672.0"/><line x1="99.50" y1="787.0" x2="99.50" y2="794.5"/>
<line x1="119.50" y1="664.5" x2="119.50" y2="678.0"/><line x1="119.50" y1="781.0" x2="119.50" y2="794.5"/>
<line x1="139.50" y1="664.5" x2="139.50" y2="672.0"/><line x1="139.50" y1="787.0" x2="139.50" y2="794.5"/>
<line x1="159.50" y1="664.5" x2="159.50" y2="678.0"/><line x1="159.50" y1="781.0" x2="159.50" y2="794.5"/>
<line x1="180.50" y1="664.5" x2="180.50" y2="672.0"/><line x1="180.50" y1="787.0" x2="180.50" y2="794.5"/>
<line x1="200.50" y1="664.5" x2="200.50" y2="678.0"/><line x1="200.50" y1="781.0" x2="200.50" y2="794.5"/>
<line x1="220.50" y1="664.5" x2="220.50" y2="672.0"/><line x1="220.50" y1="787.0" x2="220.50" y2="794.5"/>
<line x1="240.50" y1="664.5" x2="240.50" y2="678.0"/><line x1="240.50" y1="781.0" x2="240.50" y2="794.5"/>
<line x1="260.50" y1="664.5" x2="260.50" y2="672.0"/><line x1="260.50" y1="787.0" x2="260.50" y2="794.5"/>
<line x1="281.50" y1="664.5" x2="281.50" y2="678.0"/><line x1="281.50" y1="781.0" x2="281.50" y2="794.5"/>
<line x1="301.50" y1="664.5" x2="301.50" y2="672.0"/><line x1="301.50" y1="787.0" x2="301.50" y2="794.5"/>
<line x1="321.50" y1="664.5" x2="321.50" y2="678.0"/><line x1="321.50" y1="781.0" x2="321.50" y2="794.5"/>
<line x1="341.50" y1="664.5" x2="341.50" y2="672.0"/><line x1="341.50" y1="787.0" x2="341.50" y2="794.5"/>
<line x1="361.50" y1="664.5" x2="361.50" y2="678.0"/><line x1="361.50" y1="781.0" x2="361.50" y2="794.5"/>
<line x1="382.50" y1="664.5" x2="382.50" y2="672.0"/><line x1="382.50" y1="787.0" x2="382.50" y2="794.5"/>
<line x1="402.50" y1="664.5" x2="402.50" y2="678.0"/><line x1="402.50" y1="781.0" x2="402.50" y2="794.5"/>
<line x1="422.50" y1="664.5" x2="422.50" y2="672.0"/><line x1="422.50" y1="787.0" x2="422.50" y2="794.5"/>
<line x1="442.50" y1="664.5" x2="442.50" y2="678.0"/><line x1="442.50" y1="781.0" x2="442.50" y2="794.5"/>
<line x1="462.50" y1="664.5" x2="462.50" y2="672.0"/><line x1="462.50" y1="787.0" x2="462.50" y2="794.5"/>
<line x1="483.50" y1="664.5" x2="483.50" y2="678.0"/><line x1="483.50" y1="781.0" x2="483.50" y2="794.5"/>
<line x1="503.50" y1="664.5" x2="503.50" y2="672.0"/><line x1="503.50" y1="787.0" x2="503.50" y2="794.5"/>
<line x1="523.50" y1="664.5" x2="523.50" y2="678.0"/><line x1="523.50" y1="781.0" x2="523.50" y2="794.5"/>
<line x1="543.50" y1="664.5" x2="543.50" y2="672.0"/><line x1="543.50" y1="787.0" x2="543.50" y2="794.5"/>
</g>
<text x="73.5" y="800.8" font-size="17.6" text-anchor="end" textLength="10.6" lengthAdjust="spacingAndGlyphs">1</text>
<text x="73.5" y="768.8" font-size="17.6" text-anchor="end" textLength="26.6" lengthAdjust="spacingAndGlyphs">1.5</text>
<text x="73.5" y="735.8" font-size="17.6" text-anchor="end" textLength="10.6" lengthAdjust="spacingAndGlyphs">2</text>
<text x="73.5" y="702.8" font-size="17.6" text-anchor="end" textLength="26.6" lengthAdjust="spacingAndGlyphs">2.5</text>
<text x="73.5" y="670.8" font-size="17.6" text-anchor="end" textLength="10.6" lengthAdjust="spacingAndGlyphs">3</text>
<text x="80.0" y="814.2" font-size="17.6" text-anchor="middle" textLength="11.4" lengthAdjust="spacingAndGlyphs">0</text>
<text x="120.3" y="814.2" font-size="17.6" text-anchor="middle" textLength="11.4" lengthAdjust="spacingAndGlyphs">2</text>
<text x="160.8" y="814.2" font-size="17.6" text-anchor="middle" textLength="11.4" lengthAdjust="spacingAndGlyphs">4</text>
<text x="201.2" y="814.2" font-size="17.6" text-anchor="middle" textLength="11.4" lengthAdjust="spacingAndGlyphs">6</text>
<text x="241.5" y="814.2" font-size="17.6" text-anchor="middle" textLength="11.4" lengthAdjust="spacingAndGlyphs">8</text>
<text x="281.4" y="814.2" font-size="17.6" text-anchor="middle" textLength="21.3" lengthAdjust="spacingAndGlyphs">10</text>
<text x="321.8" y="814.2" font-size="17.6" text-anchor="middle" textLength="21.3" lengthAdjust="spacingAndGlyphs">12</text>
<text x="362.2" y="814.2" font-size="17.6" text-anchor="middle" textLength="21.3" lengthAdjust="spacingAndGlyphs">14</text>
<text x="402.6" y="814.2" font-size="17.6" text-anchor="middle" textLength="21.3" lengthAdjust="spacingAndGlyphs">16</text>
<text x="443.0" y="814.2" font-size="17.6" text-anchor="middle" textLength="21.3" lengthAdjust="spacingAndGlyphs">18</text>
<text x="483.4" y="814.2" font-size="17.6" text-anchor="middle" textLength="21.3" lengthAdjust="spacingAndGlyphs">20</text>
<text x="523.8" y="814.2" font-size="17.6" text-anchor="middle" textLength="21.3" lengthAdjust="spacingAndGlyphs">22</text>
<text x="564.2" y="814.2" font-size="17.6" text-anchor="middle" textLength="21.3" lengthAdjust="spacingAndGlyphs">24</text>
<text font-size="18" text-anchor="middle" textLength="65" lengthAdjust="spacingAndGlyphs" transform="translate(37.9,729.1) rotate(-90)">RH [%]</text>
<text x="322.4" y="834.7" font-size="18.4" text-anchor="middle" textLength="137.8" lengthAdjust="spacingAndGlyphs">Local Time [h]</text>
</svg></body></html>
